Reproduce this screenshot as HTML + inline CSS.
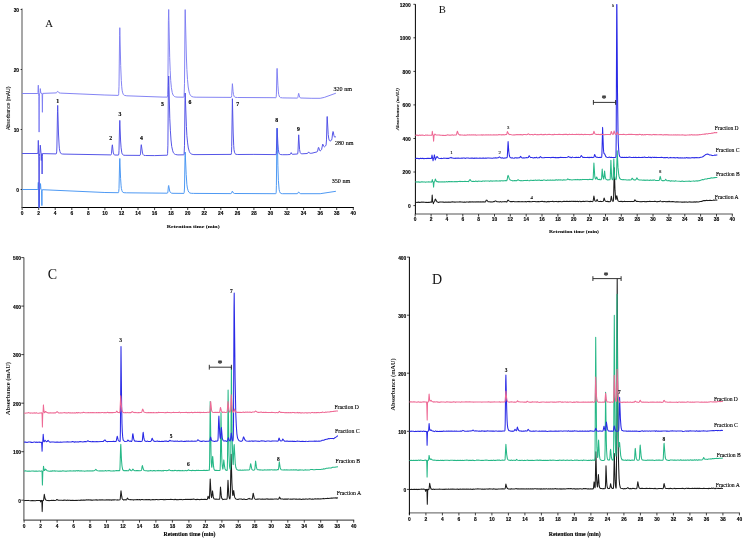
<!DOCTYPE html>
<html><head><meta charset="utf-8"><title>HPLC chromatograms</title>
<style>
html,body{margin:0;padding:0;background:#fff;}
svg{display:block;}
.tk{font-family:"Liberation Sans",Arial,sans-serif;font-size:4.9px;font-weight:bold;fill:#000;stroke:#000;stroke-width:0.12px;}
.xt{font-family:"Liberation Serif","Times New Roman",serif;font-size:4.9px;font-weight:bold;fill:#000;stroke:#000;stroke-width:0.05px;}
.xtL{font-family:"Liberation Serif","Times New Roman",serif;font-size:6.2px;font-weight:bold;fill:#000;stroke:#000;stroke-width:0.12px;}
.ytA{font-family:"Liberation Sans",Arial,sans-serif;font-size:4.8px;fill:#111;stroke:#111;stroke-width:0.1px;}
.ytB{font-family:"Liberation Serif","Times New Roman",serif;font-size:4.6px;font-style:italic;fill:#111;stroke:#111;stroke-width:0.12px;}
.ytC,.ytD{font-family:"Liberation Serif","Times New Roman",serif;font-size:6.2px;font-weight:bold;fill:#111;}
.pl{font-family:"Liberation Serif","Times New Roman",serif;font-size:10.7px;fill:#111;}
.plL{font-family:"Liberation Serif","Times New Roman",serif;font-size:14px;fill:#111;}
.pk{font-family:"Liberation Serif","Times New Roman",serif;font-size:5.8px;font-weight:bold;fill:#000;stroke:#000;stroke-width:0.15px;}
.pkB{font-family:"Liberation Serif","Times New Roman",serif;font-size:4.8px;fill:#000;stroke:#000;stroke-width:0.1px;}
.pkC,.pkD{font-family:"Liberation Serif","Times New Roman",serif;font-size:5.4px;font-weight:bold;fill:#000;stroke:#000;stroke-width:0.1px;}
.lg{font-family:"Liberation Serif","Times New Roman",serif;font-size:6px;fill:#000;stroke:#000;stroke-width:0.12px;}
.star{font-family:"Liberation Serif","Times New Roman",serif;font-size:10px;fill:#222;stroke:#222;stroke-width:0.2px;}
</style></head>
<body>
<svg width="749" height="540" viewBox="0 0 749 540">
<rect width="749" height="540" fill="#fff"/>
<line x1="21.5" y1="207.5" x2="353.8" y2="207.5" stroke="#000" stroke-width="1.0"/>
<line x1="22.1" y1="207.5" x2="22.1" y2="210.0" stroke="#111" stroke-width="0.8"/>
<text x="22.1" y="214.8" class="tk" text-anchor="middle">0</text>
<line x1="38.7" y1="207.5" x2="38.7" y2="210.0" stroke="#111" stroke-width="0.8"/>
<text x="38.7" y="214.8" class="tk" text-anchor="middle">2</text>
<line x1="55.2" y1="207.5" x2="55.2" y2="210.0" stroke="#111" stroke-width="0.8"/>
<text x="55.2" y="214.8" class="tk" text-anchor="middle">4</text>
<line x1="71.8" y1="207.5" x2="71.8" y2="210.0" stroke="#111" stroke-width="0.8"/>
<text x="71.8" y="214.8" class="tk" text-anchor="middle">6</text>
<line x1="88.3" y1="207.5" x2="88.3" y2="210.0" stroke="#111" stroke-width="0.8"/>
<text x="88.3" y="214.8" class="tk" text-anchor="middle">8</text>
<line x1="104.9" y1="207.5" x2="104.9" y2="210.0" stroke="#111" stroke-width="0.8"/>
<text x="104.9" y="214.8" class="tk" text-anchor="middle">10</text>
<line x1="121.5" y1="207.5" x2="121.5" y2="210.0" stroke="#111" stroke-width="0.8"/>
<text x="121.5" y="214.8" class="tk" text-anchor="middle">12</text>
<line x1="138.0" y1="207.5" x2="138.0" y2="210.0" stroke="#111" stroke-width="0.8"/>
<text x="138.0" y="214.8" class="tk" text-anchor="middle">14</text>
<line x1="154.6" y1="207.5" x2="154.6" y2="210.0" stroke="#111" stroke-width="0.8"/>
<text x="154.6" y="214.8" class="tk" text-anchor="middle">16</text>
<line x1="171.1" y1="207.5" x2="171.1" y2="210.0" stroke="#111" stroke-width="0.8"/>
<text x="171.1" y="214.8" class="tk" text-anchor="middle">18</text>
<line x1="187.7" y1="207.5" x2="187.7" y2="210.0" stroke="#111" stroke-width="0.8"/>
<text x="187.7" y="214.8" class="tk" text-anchor="middle">20</text>
<line x1="204.3" y1="207.5" x2="204.3" y2="210.0" stroke="#111" stroke-width="0.8"/>
<text x="204.3" y="214.8" class="tk" text-anchor="middle">22</text>
<line x1="220.8" y1="207.5" x2="220.8" y2="210.0" stroke="#111" stroke-width="0.8"/>
<text x="220.8" y="214.8" class="tk" text-anchor="middle">24</text>
<line x1="237.4" y1="207.5" x2="237.4" y2="210.0" stroke="#111" stroke-width="0.8"/>
<text x="237.4" y="214.8" class="tk" text-anchor="middle">26</text>
<line x1="253.9" y1="207.5" x2="253.9" y2="210.0" stroke="#111" stroke-width="0.8"/>
<text x="253.9" y="214.8" class="tk" text-anchor="middle">28</text>
<line x1="270.5" y1="207.5" x2="270.5" y2="210.0" stroke="#111" stroke-width="0.8"/>
<text x="270.5" y="214.8" class="tk" text-anchor="middle">30</text>
<line x1="287.1" y1="207.5" x2="287.1" y2="210.0" stroke="#111" stroke-width="0.8"/>
<text x="287.1" y="214.8" class="tk" text-anchor="middle">32</text>
<line x1="303.6" y1="207.5" x2="303.6" y2="210.0" stroke="#111" stroke-width="0.8"/>
<text x="303.6" y="214.8" class="tk" text-anchor="middle">34</text>
<line x1="320.2" y1="207.5" x2="320.2" y2="210.0" stroke="#111" stroke-width="0.8"/>
<text x="320.2" y="214.8" class="tk" text-anchor="middle">36</text>
<line x1="336.7" y1="207.5" x2="336.7" y2="210.0" stroke="#111" stroke-width="0.8"/>
<text x="336.7" y="214.8" class="tk" text-anchor="middle">38</text>
<line x1="353.3" y1="207.5" x2="353.3" y2="210.0" stroke="#111" stroke-width="0.8"/>
<text x="353.3" y="214.8" class="tk" text-anchor="middle">40</text>
<line x1="22.0" y1="8.6" x2="22.0" y2="207.5" stroke="#8a8a8a" stroke-width="1.5"/>
<line x1="20.6" y1="189.5" x2="22.0" y2="189.5" stroke="#111" stroke-width="0.8"/>
<text x="19.1" y="191.9" class="tk" text-anchor="end">0</text>
<line x1="20.6" y1="129.5" x2="22.0" y2="129.5" stroke="#111" stroke-width="0.8"/>
<text x="19.1" y="131.9" class="tk" text-anchor="end">10</text>
<line x1="20.6" y1="69.5" x2="22.0" y2="69.5" stroke="#111" stroke-width="0.8"/>
<text x="19.1" y="71.9" class="tk" text-anchor="end">20</text>
<line x1="20.6" y1="9.5" x2="22.0" y2="9.5" stroke="#111" stroke-width="0.8"/>
<text x="19.1" y="11.9" class="tk" text-anchor="end">30</text>
<text x="166.7" y="228.2" class="xt" textLength="53" lengthAdjust="spacingAndGlyphs">Retention time (min)</text>
<text transform="translate(10,129.9) rotate(-90)" class="ytA" textLength="43.3" lengthAdjust="spacingAndGlyphs">Absorbance (mAU)</text>
<text x="49" y="27.4" class="pl" text-anchor="middle">A</text>
<polyline fill="none" stroke="#7d7df2" stroke-width="0.95" stroke-linejoin="round" points="22.1,93.5 37.8,93.5 38.0,92.4 38.3,85.2 38.5,92.4 38.8,96.5 39.1,132.1 39.4,95.0 39.5,93.6 39.9,93.4 40.0,93.1 40.3,88.6 40.8,93.0 41.1,93.3 42.0,93.4 42.1,93.7 42.4,112.3 42.6,95.2 42.8,93.4 56.2,92.9 56.7,92.6 57.4,91.4 57.7,91.2 59.0,92.8 60.3,93.1 104.9,95.0 118.3,95.4 118.6,94.9 118.7,93.4 119.0,86.3 119.6,35.7 119.8,27.7 120.7,65.5 121.3,80.4 121.7,86.2 122.1,90.2 122.7,92.9 123.4,94.5 123.9,95.1 124.6,95.4 126.8,95.8 162.9,97.1 167.3,97.1 167.5,96.4 167.7,94.7 167.9,86.9 168.4,20.5 168.7,9.5 169.7,57.7 170.2,70.7 170.7,80.4 171.4,87.7 172.2,92.4 172.7,94.0 173.2,95.2 173.9,96.0 174.7,96.6 175.6,96.9 177.0,97.1 183.6,97.2 183.9,97.0 184.1,96.4 184.5,83.7 185.0,19.9 185.2,9.6 186.4,57.0 186.9,69.6 187.5,79.6 188.2,87.0 189.1,91.9 189.6,93.6 190.2,94.9 190.9,95.8 191.7,96.5 193.4,97.0 196.1,97.2 231.2,97.4 231.5,97.0 231.7,95.5 232.4,83.7 233.1,91.8 233.5,94.6 234.2,96.5 234.6,97.0 235.1,97.3 237.5,97.5 275.9,97.7 276.1,97.5 276.2,96.9 276.4,94.1 276.9,71.9 277.1,68.4 277.9,85.2 278.4,91.9 278.7,94.4 279.2,96.0 279.7,97.0 280.4,97.6 282.7,97.9 297.4,98.1 297.7,97.9 297.9,97.4 298.5,93.8 298.7,93.3 299.6,97.0 300.1,97.7 300.8,98.0 311.9,98.3 320.2,98.3 324.3,97.4 335.9,93.2"/>
<polyline fill="none" stroke="#4593f2" stroke-width="0.95" stroke-linejoin="round" points="22.1,189.5 37.8,189.5 38.0,188.5 38.3,182.4 38.5,188.5 38.8,191.0 39.0,207.5 39.2,207.5 39.2,207.1 39.4,190.3 39.5,189.6 40.0,189.5 40.2,189.2 40.5,183.6 40.9,188.6 41.1,189.4 41.5,189.7 41.6,190.3 41.9,205.6 42.1,191.2 42.3,189.7 104.9,192.5 118.4,192.7 118.6,192.4 118.7,191.8 119.0,188.6 119.6,163.0 119.8,158.5 120.6,178.7 121.1,185.8 121.4,188.5 121.9,190.5 122.4,191.8 123.1,192.4 124.1,192.7 126.3,192.8 167.3,193.2 167.6,193.0 167.9,192.1 168.4,186.5 168.7,185.5 169.7,191.1 170.3,192.3 171.0,192.9 171.7,193.2 173.0,193.3 183.9,193.4 184.1,193.1 184.2,192.4 184.5,188.0 185.0,157.5 185.2,152.0 186.2,174.6 186.9,184.7 187.4,188.1 188.1,190.6 188.8,192.1 189.9,193.0 191.2,193.3 193.6,193.4 230.8,193.6 231.2,193.5 231.5,193.2 232.2,191.4 232.4,191.2 233.5,193.1 234.0,193.4 234.7,193.5 275.8,193.7 276.0,193.4 276.2,192.3 276.4,185.5 276.9,136.0 277.1,128.3 277.9,165.8 278.4,180.5 279.1,189.3 279.6,191.6 280.3,193.0 281.1,193.5 282.5,193.7 297.2,193.7 297.8,193.4 298.4,192.1 298.7,191.9 299.7,193.3 300.7,193.7 320.2,193.7 335.9,191.3"/>
<polyline fill="none" stroke="#4d4de6" stroke-width="0.95" stroke-linejoin="round" points="22.1,153.5 37.8,153.5 38.0,151.7 38.3,140.4 38.8,159.0 39.0,207.5 39.2,207.5 39.4,156.4 39.5,153.8 39.8,153.4 39.9,152.5 40.3,145.2 41.0,153.5 41.3,160.5 41.6,154.2 41.7,153.6 41.9,154.1 42.1,174.0 42.3,156.3 42.5,153.6 56.0,153.9 56.4,153.7 56.7,151.9 56.9,147.0 57.5,111.7 57.7,105.4 58.5,134.0 59.1,145.0 59.4,148.8 59.9,151.4 60.5,153.0 61.3,153.8 62.3,154.0 64.0,154.1 110.9,154.9 111.3,154.5 111.5,153.4 112.1,146.1 112.4,144.8 113.2,152.1 113.8,154.3 114.2,154.8 114.8,155.0 118.4,155.1 118.8,154.1 119.0,150.3 119.6,125.0 119.8,120.4 120.6,141.0 121.1,147.8 121.8,152.8 122.3,154.1 122.9,154.8 123.7,155.2 125.1,155.3 140.0,155.4 140.3,154.9 140.5,153.9 141.1,145.9 141.3,144.7 142.5,153.1 143.1,154.6 143.8,155.3 145.5,155.5 154.6,155.6 167.3,155.2 167.5,154.7 167.6,153.4 167.9,145.2 168.4,85.3 168.7,76.0 169.8,118.8 170.4,130.8 171.0,140.0 171.7,146.4 172.7,150.8 173.2,152.2 173.8,153.3 174.6,154.0 175.5,154.5 177.9,154.9 183.6,154.8 183.9,154.7 184.1,154.2 184.5,145.3 185.0,100.2 185.2,93.0 186.4,126.3 186.9,135.7 187.6,142.9 188.3,148.0 189.3,151.4 189.8,152.5 190.4,153.3 191.2,153.9 192.1,154.3 193.9,154.6 197.0,154.6 231.2,154.4 231.5,152.6 231.7,146.6 232.4,98.7 233.2,133.0 233.7,145.4 234.0,149.6 234.5,152.2 235.0,153.6 235.9,154.3 237.8,154.5 253.9,154.4 275.9,154.6 276.2,153.7 276.4,150.8 277.1,128.2 277.9,143.9 278.3,149.2 278.9,152.9 279.3,153.8 279.9,154.3 280.8,154.6 282.4,154.7 287.1,154.7 290.0,154.5 290.5,154.2 291.2,152.6 291.9,154.0 292.4,154.3 297.6,154.0 297.8,153.1 298.0,151.0 298.7,134.8 299.6,149.6 300.1,152.3 300.4,153.0 300.8,153.5 301.3,153.7 302.1,153.8 307.3,153.5 307.8,153.2 308.6,151.9 309.5,153.1 310.2,153.3 311.9,153.2 317.0,151.9 317.3,151.7 317.6,151.2 318.3,147.8 318.5,147.3 318.8,147.7 319.5,150.2 319.8,150.7 320.2,150.9 321.1,150.2 321.6,149.5 322.7,144.1 322.9,144.3 323.7,146.3 324.3,146.8 324.8,146.6 325.6,145.9 326.1,144.9 326.5,139.9 327.0,119.9 327.2,116.5 328.2,134.4 328.7,138.1 329.2,140.2 329.7,140.8 330.2,141.0 331.1,140.6 331.6,140.0 332.0,138.4 332.7,132.6 333.0,131.5 333.3,131.9 333.9,135.4 334.4,136.7 334.6,137.1 335.0,137.2 335.9,136.6"/>
<text x="57.8" y="102.5" class="pk" text-anchor="middle">1</text>
<text x="110.6" y="139.5" class="pk" text-anchor="middle">2</text>
<text x="120.0" y="116" class="pk" text-anchor="middle">3</text>
<text x="141.5" y="139.5" class="pk" text-anchor="middle">4</text>
<text x="162.4" y="106" class="pk" text-anchor="middle">5</text>
<text x="190" y="103.5" class="pk" text-anchor="middle">6</text>
<text x="237.8" y="106" class="pk" text-anchor="middle">7</text>
<text x="276.7" y="121.5" class="pk" text-anchor="middle">8</text>
<text x="298.5" y="130.5" class="pk" text-anchor="middle">9</text>
<text x="333.5" y="90.5" class="lg" textLength="18.5" lengthAdjust="spacingAndGlyphs">320 nm</text>
<text x="335" y="144.5" class="lg" textLength="18.5" lengthAdjust="spacingAndGlyphs">280 nm</text>
<text x="331.7" y="183" class="lg" textLength="18.5" lengthAdjust="spacingAndGlyphs">350 nm</text>
<line x1="414.9" y1="214.0" x2="732.8" y2="214.0" stroke="#8c8c8c" stroke-width="1.5"/>
<line x1="415.2" y1="214.0" x2="415.2" y2="216.5" stroke="#111" stroke-width="0.8"/>
<text x="415.2" y="221.1" class="tk" text-anchor="middle">0</text>
<line x1="431.1" y1="214.0" x2="431.1" y2="216.5" stroke="#111" stroke-width="0.8"/>
<text x="431.1" y="221.1" class="tk" text-anchor="middle">2</text>
<line x1="446.9" y1="214.0" x2="446.9" y2="216.5" stroke="#111" stroke-width="0.8"/>
<text x="446.9" y="221.1" class="tk" text-anchor="middle">4</text>
<line x1="462.8" y1="214.0" x2="462.8" y2="216.5" stroke="#111" stroke-width="0.8"/>
<text x="462.8" y="221.1" class="tk" text-anchor="middle">6</text>
<line x1="478.6" y1="214.0" x2="478.6" y2="216.5" stroke="#111" stroke-width="0.8"/>
<text x="478.6" y="221.1" class="tk" text-anchor="middle">8</text>
<line x1="494.5" y1="214.0" x2="494.5" y2="216.5" stroke="#111" stroke-width="0.8"/>
<text x="494.5" y="221.1" class="tk" text-anchor="middle">10</text>
<line x1="510.3" y1="214.0" x2="510.3" y2="216.5" stroke="#111" stroke-width="0.8"/>
<text x="510.3" y="221.1" class="tk" text-anchor="middle">12</text>
<line x1="526.2" y1="214.0" x2="526.2" y2="216.5" stroke="#111" stroke-width="0.8"/>
<text x="526.2" y="221.1" class="tk" text-anchor="middle">14</text>
<line x1="542.0" y1="214.0" x2="542.0" y2="216.5" stroke="#111" stroke-width="0.8"/>
<text x="542.0" y="221.1" class="tk" text-anchor="middle">16</text>
<line x1="557.9" y1="214.0" x2="557.9" y2="216.5" stroke="#111" stroke-width="0.8"/>
<text x="557.9" y="221.1" class="tk" text-anchor="middle">18</text>
<line x1="573.8" y1="214.0" x2="573.8" y2="216.5" stroke="#111" stroke-width="0.8"/>
<text x="573.8" y="221.1" class="tk" text-anchor="middle">20</text>
<line x1="589.6" y1="214.0" x2="589.6" y2="216.5" stroke="#111" stroke-width="0.8"/>
<text x="589.6" y="221.1" class="tk" text-anchor="middle">22</text>
<line x1="605.5" y1="214.0" x2="605.5" y2="216.5" stroke="#111" stroke-width="0.8"/>
<text x="605.5" y="221.1" class="tk" text-anchor="middle">24</text>
<line x1="621.3" y1="214.0" x2="621.3" y2="216.5" stroke="#111" stroke-width="0.8"/>
<text x="621.3" y="221.1" class="tk" text-anchor="middle">26</text>
<line x1="637.2" y1="214.0" x2="637.2" y2="216.5" stroke="#111" stroke-width="0.8"/>
<text x="637.2" y="221.1" class="tk" text-anchor="middle">28</text>
<line x1="653.0" y1="214.0" x2="653.0" y2="216.5" stroke="#111" stroke-width="0.8"/>
<text x="653.0" y="221.1" class="tk" text-anchor="middle">30</text>
<line x1="668.9" y1="214.0" x2="668.9" y2="216.5" stroke="#111" stroke-width="0.8"/>
<text x="668.9" y="221.1" class="tk" text-anchor="middle">32</text>
<line x1="684.8" y1="214.0" x2="684.8" y2="216.5" stroke="#111" stroke-width="0.8"/>
<text x="684.8" y="221.1" class="tk" text-anchor="middle">34</text>
<line x1="700.6" y1="214.0" x2="700.6" y2="216.5" stroke="#111" stroke-width="0.8"/>
<text x="700.6" y="221.1" class="tk" text-anchor="middle">36</text>
<line x1="716.5" y1="214.0" x2="716.5" y2="216.5" stroke="#111" stroke-width="0.8"/>
<text x="716.5" y="221.1" class="tk" text-anchor="middle">38</text>
<line x1="732.3" y1="214.0" x2="732.3" y2="216.5" stroke="#111" stroke-width="0.8"/>
<text x="732.3" y="221.1" class="tk" text-anchor="middle">40</text>
<line x1="415.4" y1="4.2" x2="415.4" y2="214.0" stroke="#000" stroke-width="1.0"/>
<line x1="413.4" y1="205.6" x2="415.4" y2="205.6" stroke="#111" stroke-width="0.8"/>
<text x="410.7" y="208.0" class="tk" text-anchor="end">0</text>
<line x1="413.4" y1="172.0" x2="415.4" y2="172.0" stroke="#111" stroke-width="0.8"/>
<text x="410.7" y="174.4" class="tk" text-anchor="end">200</text>
<line x1="413.4" y1="138.5" x2="415.4" y2="138.5" stroke="#111" stroke-width="0.8"/>
<text x="410.7" y="140.9" class="tk" text-anchor="end">400</text>
<line x1="413.4" y1="104.9" x2="415.4" y2="104.9" stroke="#111" stroke-width="0.8"/>
<text x="410.7" y="107.3" class="tk" text-anchor="end">600</text>
<line x1="413.4" y1="71.4" x2="415.4" y2="71.4" stroke="#111" stroke-width="0.8"/>
<text x="410.7" y="73.8" class="tk" text-anchor="end">800</text>
<line x1="413.4" y1="37.8" x2="415.4" y2="37.8" stroke="#111" stroke-width="0.8"/>
<text x="410.7" y="40.2" class="tk" text-anchor="end">1000</text>
<line x1="413.4" y1="4.3" x2="415.4" y2="4.3" stroke="#111" stroke-width="0.8"/>
<text x="410.7" y="6.7" class="tk" text-anchor="end">1200</text>
<text x="549.0" y="233" class="xt" textLength="50" lengthAdjust="spacingAndGlyphs">Retention time (min)</text>
<text transform="translate(398.8,130.3) rotate(-90)" class="ytB" textLength="42" lengthAdjust="spacingAndGlyphs">Absorbance (mAU)</text>
<text x="442.2" y="12.7" class="pl" text-anchor="middle">B</text>
<polyline fill="none" stroke="#1c1c1c" stroke-width="1.05" stroke-linejoin="round" points="415.2,202.3 417.3,202.4 418.2,202.0 419.0,202.5 419.4,202.3 420.0,202.4 421.4,202.1 422.1,202.2 422.8,202.1 424.5,202.3 425.2,202.2 425.7,202.4 426.3,202.3 426.8,202.5 428.4,202.3 429.1,202.5 429.7,202.2 430.7,202.1 431.3,202.3 431.7,202.0 431.8,201.3 432.2,195.1 432.6,201.1 433.4,203.7 433.7,202.4 434.6,201.5 435.1,199.5 435.4,199.1 436.9,201.8 438.7,202.4 439.6,202.0 440.3,202.1 440.8,201.9 441.6,202.1 442.4,201.9 443.0,202.2 443.7,202.0 444.4,202.4 445.0,202.1 446.3,202.2 446.9,202.0 447.8,202.2 448.4,202.0 449.3,202.3 449.9,202.1 450.5,202.2 451.2,201.9 451.9,202.1 452.6,201.8 453.6,202.1 454.2,201.9 454.8,202.3 456.0,201.9 457.7,202.1 458.2,202.0 459.1,202.0 459.9,201.7 461.2,202.1 462.3,202.0 463.0,202.2 464.3,201.9 465.6,202.3 466.3,201.9 466.9,202.1 468.1,201.9 468.9,202.2 469.5,201.8 470.2,202.1 470.9,201.7 471.7,201.9 472.9,201.7 473.6,202.1 474.5,202.0 475.0,201.8 475.6,202.1 477.1,201.8 477.6,202.0 478.3,201.8 479.3,201.9 480.1,201.7 481.0,202.1 482.3,201.8 482.9,201.9 483.4,201.7 485.2,202.0 485.6,201.7 486.2,200.3 486.6,200.1 487.0,200.3 488.1,201.7 489.3,201.7 490.4,202.0 491.0,201.7 491.5,201.9 492.5,201.9 493.5,201.6 494.3,201.7 495.0,201.1 495.6,200.9 497.1,201.8 498.2,201.8 499.4,202.0 500.1,201.6 501.6,202.0 502.5,201.7 504.4,201.8 505.0,201.6 505.5,201.8 506.1,201.7 506.7,202.0 507.0,201.8 507.8,200.3 508.1,200.1 508.9,200.9 510.3,201.6 512.7,201.6 513.7,201.4 514.6,201.8 515.6,201.7 516.8,201.8 518.9,201.5 519.8,201.8 520.4,201.7 521.5,201.7 522.0,201.5 522.5,201.8 523.8,201.7 524.4,201.8 525.9,201.6 526.5,201.9 527.2,201.6 528.3,201.4 529.0,201.7 529.7,201.4 530.5,201.8 531.9,201.7 532.6,201.5 533.2,201.6 533.6,201.5 534.2,201.6 535.0,201.4 536.0,201.7 538.6,201.5 539.3,201.7 540.6,201.4 541.3,201.5 542.0,201.3 543.1,201.4 543.9,201.7 544.7,201.4 546.5,201.9 547.3,201.6 548.0,201.8 548.9,201.4 549.6,201.7 550.2,201.5 552.0,201.6 552.8,201.3 553.7,201.7 555.0,201.5 556.2,201.6 556.7,201.4 557.7,201.7 558.3,201.4 559.0,201.7 559.6,201.4 560.2,201.5 560.6,201.4 561.3,201.7 561.9,201.8 564.0,201.2 565.2,201.5 566.7,201.2 568.9,201.6 569.8,201.3 571.1,201.5 571.9,201.1 572.5,201.4 573.0,201.3 573.5,201.5 574.0,201.3 575.1,201.6 575.8,201.3 576.6,201.4 577.4,201.2 578.1,201.6 578.5,201.6 579.3,201.2 579.8,201.2 581.0,201.7 581.7,201.4 583.5,201.3 584.6,201.6 585.9,201.3 587.4,201.3 588.9,201.5 589.4,201.4 589.9,201.7 590.6,201.3 591.2,201.5 591.9,201.4 592.4,201.7 592.9,201.3 593.2,200.7 593.9,196.1 594.8,200.5 595.0,200.9 595.8,201.3 596.4,201.1 597.1,199.4 597.7,200.9 598.0,201.2 599.6,201.4 600.5,201.3 601.2,201.6 603.2,201.2 603.5,200.8 603.9,198.5 604.2,198.1 604.9,200.5 605.6,201.2 606.2,201.4 607.3,201.3 608.1,201.8 608.7,201.5 609.9,201.7 610.4,201.4 610.6,201.0 611.3,196.2 612.1,200.2 612.5,201.1 613.0,201.3 613.2,201.2 613.4,200.7 613.6,197.4 614.3,167.7 615.0,190.4 615.6,197.9 615.8,199.2 615.9,199.4 616.1,199.3 616.6,196.2 616.8,195.8 617.8,200.2 618.2,200.9 618.9,201.4 620.0,201.6 621.2,201.3 622.3,201.7 622.9,201.4 623.7,201.6 624.3,201.3 625.2,201.6 626.3,201.4 627.2,201.6 627.7,201.4 630.3,201.4 630.9,201.6 631.5,201.4 632.1,201.6 633.5,201.4 634.0,201.5 634.9,199.8 636.3,201.5 636.9,201.3 637.9,201.5 638.4,201.4 640.4,201.7 640.9,201.6 642.1,201.7 642.6,201.5 644.2,201.4 644.9,201.7 646.2,201.5 646.7,201.7 647.5,201.4 648.9,201.6 649.8,201.3 650.5,201.6 651.7,201.5 652.3,201.6 652.8,201.5 653.4,201.6 655.0,201.3 656.5,201.7 657.2,201.6 657.8,201.7 658.4,201.5 659.2,201.6 660.3,200.9 661.0,201.4 662.2,201.7 662.7,201.5 663.3,201.7 663.9,201.4 665.0,201.5 665.8,201.8 667.2,201.6 668.3,201.8 669.1,201.3 669.8,201.8 672.9,201.6 674.1,201.7 675.4,202.1 676.7,201.7 677.3,201.9 677.8,201.7 678.8,202.0 680.1,201.9 680.6,202.0 681.1,201.9 681.9,202.2 682.5,202.0 683.5,202.2 684.0,201.8 684.7,202.2 685.7,201.9 686.2,202.1 686.8,201.9 687.6,202.2 688.7,201.9 689.2,202.0 689.8,201.8 690.5,202.0 691.0,202.2 691.7,201.9 692.3,201.9 693.1,202.2 694.1,201.8 694.8,202.1 695.5,202.1 696.1,201.8 698.4,202.0 700.2,201.5 701.5,201.5 702.0,201.1 702.6,201.1 703.8,200.6 705.6,200.6 706.4,200.2 707.1,200.6 707.6,200.4 708.6,200.6 710.1,200.2 711.4,200.4 713.0,200.3 713.6,200.1 714.8,200.2 715.6,199.9 716.6,200.1 717.3,200.1"/>
<polyline fill="none" stroke="#27b887" stroke-width="1.05" stroke-linejoin="round" points="415.2,182.0 416.1,181.8 416.7,182.1 417.2,181.9 417.7,182.1 418.2,181.8 418.8,182.1 419.6,182.1 420.1,182.2 420.8,181.9 421.6,181.8 423.9,182.1 424.8,181.9 425.4,182.2 426.3,181.9 428.1,182.1 428.7,181.8 429.6,182.1 431.0,181.9 431.6,182.1 431.9,181.7 432.3,179.5 432.7,181.3 433.1,181.8 433.2,182.3 433.6,187.1 434.0,182.3 434.1,182.0 434.7,181.7 435.3,179.0 436.2,180.9 436.8,181.7 437.1,181.8 437.6,181.6 438.2,182.1 438.8,181.8 440.4,181.9 441.0,181.7 441.9,181.9 442.9,181.7 443.8,181.9 444.5,181.7 445.7,181.9 446.3,181.6 447.2,182.0 448.6,181.6 449.9,181.6 450.6,181.8 451.8,181.5 452.8,181.8 453.9,181.8 455.1,181.5 455.7,181.8 456.8,181.6 457.4,181.8 458.1,181.5 459.1,181.6 460.1,181.2 460.9,181.6 461.6,181.4 462.2,181.6 462.8,181.4 464.1,181.6 465.1,181.3 465.8,181.5 468.0,181.4 468.6,181.6 468.8,181.3 469.5,180.0 470.1,179.6 471.0,180.9 471.8,181.4 473.2,181.2 473.9,181.5 474.8,181.5 475.8,181.0 476.4,181.2 477.1,181.6 477.6,181.3 478.2,181.3 478.8,181.1 479.5,181.3 481.2,181.2 481.7,181.4 482.8,180.9 483.4,181.1 484.1,181.0 484.6,181.2 485.2,180.9 486.5,181.1 488.7,181.0 489.5,181.4 490.1,181.0 490.9,180.8 492.1,181.2 492.8,180.9 493.3,181.0 493.8,180.9 494.5,181.1 496.5,180.8 497.5,181.0 498.9,180.9 499.7,180.7 500.3,181.1 501.0,180.7 501.5,180.8 502.3,180.7 503.0,181.0 503.6,180.7 504.7,180.7 505.3,180.6 506.5,180.7 506.8,180.5 507.2,179.5 507.8,175.9 508.1,175.4 508.4,175.9 509.1,178.2 509.9,179.7 511.0,180.3 512.0,180.5 512.7,180.9 513.2,180.7 514.0,180.8 514.6,180.5 515.4,180.8 516.0,180.6 516.9,180.7 518.1,179.7 519.0,180.2 520.4,180.7 521.1,180.5 521.7,180.7 523.0,180.7 523.8,180.4 525.1,180.5 525.9,180.4 526.6,180.6 527.3,180.2 527.9,180.5 529.7,180.7 530.3,180.3 531.3,180.2 532.1,180.4 533.3,180.2 533.9,180.5 535.6,180.1 536.9,180.4 538.0,180.1 538.8,180.3 539.5,180.1 540.5,180.4 541.5,180.2 542.6,180.4 543.3,180.1 544.4,180.0 546.3,180.4 547.5,180.0 549.2,180.2 550.2,179.9 551.9,180.2 552.6,180.0 554.2,180.2 554.8,180.1 555.2,180.3 555.9,179.8 556.5,179.8 557.2,180.2 558.4,179.7 558.9,179.9 560.3,179.8 560.9,180.1 561.9,179.9 562.5,180.2 563.6,179.8 565.5,180.0 566.8,179.8 567.8,178.8 569.0,179.7 569.6,179.6 572.0,179.9 573.2,179.7 574.4,179.8 575.2,179.6 576.5,179.8 577.3,179.4 578.0,179.7 579.2,179.6 579.7,179.9 580.5,179.6 581.9,179.7 582.5,179.4 583.6,179.6 584.4,179.4 585.3,179.5 586.5,179.4 587.3,179.4 587.9,179.8 589.9,179.3 590.4,179.5 591.0,179.4 591.5,179.6 592.0,179.4 592.5,179.7 593.0,179.2 593.2,177.7 593.9,163.0 594.7,175.4 595.0,177.7 595.4,178.9 595.7,179.0 596.0,178.9 596.7,177.0 597.6,179.1 597.9,179.4 598.6,179.6 599.3,179.2 600.0,179.7 600.9,179.7 601.2,179.5 601.6,177.9 602.2,169.1 602.9,176.5 603.5,178.9 603.7,179.0 603.9,178.3 604.6,171.1 605.2,176.6 605.7,178.6 605.9,179.1 606.4,179.5 607.9,180.1 608.9,179.7 609.9,179.7 610.2,179.1 610.9,160.3 611.6,176.3 612.0,179.0 612.4,179.6 612.7,179.8 613.0,179.5 613.2,177.7 613.8,158.9 614.3,172.2 614.6,177.0 615.0,178.9 616.0,179.6 616.3,178.9 616.5,176.1 617.2,150.8 618.0,167.4 618.7,174.2 619.0,176.2 619.8,178.5 621.2,179.6 622.4,179.7 623.0,179.5 624.3,179.8 625.5,179.7 626.9,180.0 628.2,180.0 628.9,179.8 629.9,180.1 631.2,179.7 631.9,178.4 632.2,178.2 633.5,179.8 634.1,179.8 634.6,180.1 635.1,179.9 635.6,180.0 635.9,179.7 636.7,178.2 636.9,177.9 638.0,179.5 639.3,179.9 641.4,179.9 642.8,180.2 643.3,180.0 643.7,180.2 644.3,180.1 645.0,180.4 646.0,180.0 646.7,180.2 647.5,180.1 648.1,180.2 648.7,180.2 649.4,180.4 650.1,180.1 651.0,180.1 651.5,180.4 652.1,180.1 652.8,180.3 653.5,180.1 654.0,180.1 654.5,179.9 655.4,180.4 658.8,180.4 659.2,180.3 659.4,179.9 660.2,176.4 660.4,176.8 661.1,179.8 661.4,180.1 662.2,180.7 663.0,180.5 664.0,180.7 664.6,180.5 665.1,180.2 665.7,179.3 666.4,180.1 667.2,180.8 668.0,180.8 668.7,180.6 669.7,180.7 670.4,181.2 671.6,180.7 672.5,181.0 673.6,180.9 674.3,181.2 675.6,180.8 676.4,181.1 679.8,181.2 680.9,181.4 682.1,181.0 683.9,181.5 685.7,181.2 686.4,181.3 688.3,181.3 689.2,181.0 690.3,181.4 691.0,181.2 692.9,181.1 693.4,180.9 694.2,181.3 695.4,180.9 697.1,180.8 697.8,181.1 698.5,180.7 699.2,180.8 699.8,180.5 700.4,180.4 700.9,180.1 701.7,179.9 702.4,179.5 703.7,179.7 704.7,179.1 707.0,179.0 707.5,178.6 708.2,178.4 709.0,178.6 709.7,178.5 710.2,178.1 710.8,178.2 711.3,177.8 713.0,178.1 714.4,177.6 714.9,177.7 715.5,177.5 716.1,177.6 717.3,177.4"/>
<polyline fill="none" stroke="#2a2ae6" stroke-width="1.05" stroke-linejoin="round" points="415.2,158.5 415.5,158.5 416.2,158.2 417.2,158.4 417.8,158.3 418.4,158.6 419.3,158.6 419.9,158.6 420.6,158.2 421.5,158.6 422.8,158.2 423.9,158.7 424.9,158.4 425.4,158.5 426.0,158.4 426.6,158.6 427.3,158.3 428.0,158.5 428.6,158.3 430.5,158.5 431.1,158.3 431.4,158.4 431.6,157.8 432.0,155.0 433.1,160.8 433.4,158.5 433.9,157.8 434.4,154.9 435.3,159.9 435.7,158.6 436.1,158.1 436.7,156.8 437.0,156.5 437.3,156.7 437.9,157.6 438.9,158.2 440.7,158.4 441.4,158.2 442.0,158.6 443.4,158.3 443.9,158.1 444.4,158.2 446.3,158.3 446.7,158.5 447.3,158.3 447.8,158.5 448.3,158.3 448.8,158.4 449.4,158.0 450.2,157.9 451.0,157.3 451.8,158.0 452.6,158.0 453.3,158.2 454.5,158.2 455.1,158.4 455.9,158.1 456.6,158.3 458.2,158.1 458.9,158.3 460.2,158.2 460.8,158.3 462.1,158.1 462.5,158.2 463.2,158.0 464.3,158.0 465.5,158.4 466.2,158.0 468.4,158.0 469.0,158.2 469.9,158.2 471.6,158.1 472.1,158.2 472.7,158.0 474.0,158.5 474.8,158.0 476.0,158.3 476.8,158.0 477.5,158.2 478.8,158.2 479.9,158.0 481.2,158.2 483.3,157.9 484.5,158.2 485.9,158.1 486.5,158.2 487.1,158.0 487.8,158.1 488.4,157.9 492.7,158.2 493.5,157.9 494.4,158.1 495.7,157.7 496.6,158.1 498.2,157.8 499.4,156.9 501.1,158.1 502.3,157.7 503.6,158.2 504.1,158.2 504.7,157.9 505.7,158.0 506.2,157.7 506.6,157.8 507.0,157.7 507.3,156.8 508.1,141.5 508.8,151.6 509.3,155.2 509.6,156.5 510.2,157.5 510.4,157.7 510.9,157.7 511.4,157.9 512.2,157.8 512.9,158.1 514.1,158.2 515.0,157.7 515.7,157.7 516.3,158.0 517.0,157.7 517.7,157.9 519.0,157.7 519.6,157.8 520.6,156.4 521.3,157.4 522.4,157.9 523.0,158.1 523.9,157.7 524.7,158.0 526.7,157.6 527.4,157.8 528.3,157.5 529.0,156.0 529.3,155.8 530.1,157.0 530.7,157.6 531.8,157.5 533.6,158.0 534.5,157.6 535.8,157.7 536.4,157.3 537.3,157.9 538.5,157.8 539.1,157.6 539.5,157.7 540.4,156.6 541.7,157.7 542.6,157.8 544.3,157.7 544.9,157.4 548.0,157.6 548.7,157.4 549.8,157.4 550.8,157.8 551.4,157.4 552.0,157.6 553.2,157.3 553.7,157.6 554.4,157.5 555.0,157.7 555.7,157.4 556.4,157.8 557.2,157.5 557.9,157.7 558.4,157.5 559.0,157.7 559.5,157.4 560.3,157.3 562.2,157.6 562.8,157.4 563.4,157.6 564.2,157.4 565.2,157.6 565.8,157.4 567.3,157.3 568.8,156.6 569.6,157.3 570.5,157.3 571.2,157.7 572.3,157.1 573.0,157.3 574.9,157.4 575.5,157.6 576.2,157.3 577.7,157.5 578.4,157.3 579.0,157.5 580.3,157.2 581.3,155.5 582.6,157.2 583.2,157.5 584.1,157.3 584.6,157.4 585.4,157.4 586.8,157.6 588.0,157.2 589.1,157.7 589.8,157.2 590.8,157.5 591.6,157.2 592.7,157.6 593.9,157.2 594.7,154.5 595.5,156.4 596.2,157.2 597.5,157.2 598.0,157.4 598.8,157.6 600.6,157.3 601.3,157.4 601.5,157.3 601.7,156.9 601.9,154.4 602.6,127.4 603.4,148.2 603.7,151.9 604.0,153.5 604.7,154.0 605.9,156.7 606.9,157.2 608.0,157.5 609.7,157.1 610.3,157.5 611.3,157.3 612.1,157.5 613.7,157.4 614.7,157.6 615.7,157.2 615.9,156.5 616.0,153.9 616.2,137.5 616.7,4.4 616.9,4.4 616.9,4.8 617.5,92.1 618.0,131.3 618.3,142.7 618.7,150.0 619.1,154.3 619.8,156.6 620.9,157.4 622.1,157.3 624.2,157.5 624.7,157.3 625.7,157.4 626.3,157.3 627.9,157.5 629.3,157.1 631.3,157.6 632.4,157.5 633.0,157.6 633.6,157.3 634.8,157.4 635.6,157.2 636.6,157.6 637.2,157.4 638.1,157.5 638.8,157.2 639.6,157.5 641.3,157.5 642.4,157.3 643.0,157.4 644.5,157.1 645.7,157.5 647.0,157.6 647.6,157.4 648.1,157.4 648.7,157.0 649.5,157.4 650.5,157.3 651.2,157.7 652.1,157.3 652.9,157.2 653.6,157.4 654.3,157.2 655.5,157.4 656.0,157.3 656.8,157.6 657.4,157.4 658.3,157.4 660.4,157.6 661.4,157.3 662.1,157.5 662.8,157.4 663.3,157.7 663.9,157.8 664.4,157.6 665.0,157.8 665.4,157.6 666.4,157.6 667.1,157.4 667.8,157.8 668.3,157.9 670.7,157.4 671.4,157.7 672.6,157.8 674.1,157.6 675.1,158.0 675.9,157.7 676.5,157.8 677.4,157.6 678.1,157.9 678.8,157.7 679.5,158.0 680.5,157.7 681.1,157.9 682.1,157.8 682.9,158.0 683.5,157.9 684.1,158.0 684.7,157.8 685.3,158.1 686.9,157.6 687.6,157.9 688.6,157.7 691.2,157.9 691.8,157.6 692.6,157.8 693.3,157.6 694.1,158.0 695.0,157.5 695.7,157.8 696.9,157.6 697.6,157.8 699.2,157.8 699.8,157.5 702.2,157.0 703.3,156.5 703.9,155.8 704.4,155.7 705.9,154.4 707.4,154.1 708.3,154.3 709.8,155.1 711.0,155.0 712.2,155.6 714.2,155.3 714.8,155.1 715.5,155.2 716.1,155.0 716.7,155.1 717.3,154.8"/>
<polyline fill="none" stroke="#ee6a95" stroke-width="1.05" stroke-linejoin="round" points="415.2,135.3 415.8,135.3 416.6,135.0 417.6,135.3 418.2,135.7 419.0,135.1 420.1,135.1 420.8,135.4 421.4,135.1 422.4,135.1 424.4,135.4 425.3,135.2 425.8,134.9 426.6,135.3 427.3,135.1 428.1,135.3 429.6,135.2 430.3,135.3 431.7,135.2 432.0,134.6 432.3,131.2 432.7,134.3 433.2,135.5 433.6,141.2 434.0,135.7 434.9,134.0 435.6,134.7 436.5,135.1 439.1,134.9 439.6,135.1 440.2,135.1 440.6,135.3 441.6,135.3 442.1,135.2 442.6,135.4 443.1,135.2 444.6,135.4 445.2,135.2 445.8,135.4 447.7,134.8 448.2,135.1 448.7,135.0 449.3,135.2 449.9,135.1 450.9,135.3 451.5,135.0 452.3,134.8 452.9,135.1 453.5,135.2 454.2,135.0 455.9,135.1 456.2,135.0 456.5,134.5 457.2,131.7 457.4,131.3 458.5,134.2 459.8,135.2 460.4,134.8 461.0,135.1 462.1,134.9 464.1,135.2 464.7,134.9 466.2,135.2 467.4,134.8 468.0,135.0 469.6,134.8 470.5,135.1 472.0,134.8 472.8,135.0 473.8,134.8 474.6,135.0 475.5,134.8 476.2,135.2 477.3,134.9 480.7,134.9 481.4,134.8 482.2,135.2 483.0,134.8 484.1,135.1 485.3,135.0 485.8,134.8 486.4,134.9 486.9,134.7 487.7,134.9 488.3,134.8 489.4,135.0 490.2,134.8 492.1,135.0 493.8,134.8 494.4,135.0 495.0,134.8 495.9,134.9 496.7,134.7 497.9,134.9 498.8,134.6 500.4,134.8 500.9,134.7 501.4,135.0 502.0,134.6 502.7,134.9 503.3,134.6 504.0,134.9 504.6,134.7 505.1,134.7 505.6,134.5 506.1,134.6 506.5,134.5 506.8,133.9 507.3,132.0 507.5,131.6 508.3,133.4 509.3,134.6 510.7,134.5 511.5,134.8 512.9,134.9 514.1,134.8 515.3,134.9 516.1,134.5 517.1,134.8 517.9,134.5 518.6,134.7 519.1,134.6 519.6,134.7 520.2,134.5 520.6,134.5 521.1,134.9 521.7,134.6 522.6,134.9 523.5,134.5 524.6,134.6 525.1,134.5 526.4,134.8 527.3,134.6 527.9,134.0 528.5,133.8 529.5,134.6 530.0,134.8 531.4,134.5 532.3,134.5 532.9,134.9 534.9,134.3 536.6,134.7 537.7,134.6 539.2,134.7 539.8,134.5 540.5,134.6 541.1,134.2 542.1,134.7 543.3,134.6 544.5,134.6 545.2,134.2 545.8,134.6 546.9,134.7 547.7,134.4 548.4,134.5 548.9,134.3 551.9,134.7 552.6,134.5 553.7,134.7 554.3,134.3 555.4,134.5 557.2,134.4 557.9,134.6 559.0,134.2 560.9,134.6 561.7,134.4 562.4,134.5 563.0,134.7 564.0,134.3 564.8,134.5 565.5,134.2 566.1,134.5 566.7,134.3 567.4,134.7 568.0,134.5 568.7,134.6 569.3,134.1 570.0,134.5 571.4,134.5 572.2,134.3 573.4,134.6 574.9,134.4 575.6,134.6 576.4,134.3 578.1,134.6 578.9,134.1 579.7,134.7 581.2,134.2 582.1,134.6 582.9,134.4 583.5,134.7 585.0,134.2 585.7,134.6 586.2,134.5 587.8,134.6 589.0,134.4 589.9,134.7 590.4,134.5 590.9,134.5 591.4,134.3 592.1,134.5 593.0,134.1 593.3,133.6 593.9,131.3 594.6,133.2 595.0,133.9 595.4,134.2 596.0,134.2 596.5,134.5 597.6,134.5 598.2,134.3 598.8,134.4 599.3,134.4 600.2,134.7 600.9,134.3 602.7,134.6 603.6,134.4 604.5,134.8 605.9,134.4 606.6,134.6 607.2,134.4 609.7,134.5 610.2,134.7 610.6,134.2 611.1,132.0 611.3,131.5 612.2,133.8 612.7,134.3 613.2,134.4 614.1,131.0 614.9,133.6 615.6,134.3 616.0,134.4 616.4,134.2 617.2,132.0 617.8,133.6 618.3,134.3 618.5,134.5 619.1,134.4 619.7,134.6 620.4,134.4 621.2,134.6 622.1,134.4 622.9,134.6 623.6,134.3 625.9,134.7 627.2,134.4 627.8,134.5 629.0,134.3 629.4,134.4 630.0,134.3 630.9,134.5 631.6,134.3 632.9,134.5 635.0,134.5 635.6,134.8 636.3,134.5 636.9,134.8 637.5,134.5 638.2,134.7 638.5,134.7 639.3,134.3 639.9,134.5 640.7,134.4 641.7,135.0 642.5,134.5 643.3,134.9 644.8,134.5 645.5,134.9 646.2,134.5 647.4,134.6 648.0,134.4 649.1,134.8 650.0,134.4 650.6,134.7 651.2,134.7 651.8,134.9 653.2,134.4 653.8,134.6 654.9,134.6 655.4,134.8 656.1,134.5 656.8,134.8 657.4,134.7 658.8,134.7 659.3,134.8 660.0,134.6 660.6,134.8 661.2,134.6 662.8,134.9 663.3,134.8 663.8,134.9 665.0,134.5 665.9,134.9 666.9,134.5 667.9,134.9 668.4,134.7 670.4,134.9 671.1,134.8 671.6,135.0 672.7,134.9 673.2,135.0 673.8,134.7 674.6,134.9 675.7,134.7 676.4,135.1 677.2,134.8 678.3,134.9 678.9,134.8 679.7,135.1 681.1,134.9 681.6,135.0 682.1,134.8 683.6,135.1 684.1,135.0 684.6,135.2 685.2,135.0 685.8,135.2 687.2,134.9 689.0,135.1 689.7,134.8 690.7,134.9 691.5,134.6 692.3,135.0 693.0,134.7 693.7,134.9 694.8,134.7 695.6,134.9 697.3,134.7 698.1,135.0 699.4,134.6 700.0,134.7 702.9,134.3 703.9,134.3 704.5,134.1 705.6,134.1 706.0,133.8 706.7,133.7 707.3,133.9 708.9,133.5 711.1,133.4 711.7,133.1 712.4,133.3 712.8,133.0 713.8,132.9 714.4,132.5 715.3,132.8 716.4,132.5 717.3,132.8"/>
<text x="451.4" y="154.3" class="pkB" text-anchor="middle">1</text>
<text x="499.8" y="154.3" class="pkB" text-anchor="middle">2</text>
<text x="508.2" y="128.7" class="pkB" text-anchor="middle">3</text>
<text x="531.7" y="199.2" class="pkB" text-anchor="middle">4</text>
<text x="613" y="6.7" class="pkB" text-anchor="middle">5</text>
<text x="660.2" y="173.1" class="pkB" text-anchor="middle">8</text>
<text x="714.8" y="129.8" class="lg" textLength="23.8" lengthAdjust="spacingAndGlyphs">Fraction D</text>
<text x="715.7" y="152.2" class="lg" textLength="23.8" lengthAdjust="spacingAndGlyphs">Fraction C</text>
<text x="716" y="175.6" class="lg" textLength="23.8" lengthAdjust="spacingAndGlyphs">Fraction B</text>
<text x="714.8" y="199.4" class="lg" textLength="23.8" lengthAdjust="spacingAndGlyphs">Fraction A</text>
<path d="M593.4,100.0V104.80000000000001M593.4,102.4H615.6M615.6,100.0V104.80000000000001" stroke="#2a2a2a" stroke-width="0.95" fill="none"/>
<text x="604" y="101.5" class="star" text-anchor="middle">*</text>
<line x1="23.4" y1="520.1" x2="354.2" y2="520.1" stroke="#555" stroke-width="1.1"/>
<line x1="24.1" y1="520.1" x2="24.1" y2="522.6" stroke="#111" stroke-width="0.8"/>
<text x="24.1" y="528.1" class="tk" text-anchor="middle">0</text>
<line x1="40.6" y1="520.1" x2="40.6" y2="522.6" stroke="#111" stroke-width="0.8"/>
<text x="40.6" y="528.1" class="tk" text-anchor="middle">2</text>
<line x1="57.1" y1="520.1" x2="57.1" y2="522.6" stroke="#111" stroke-width="0.8"/>
<text x="57.1" y="528.1" class="tk" text-anchor="middle">4</text>
<line x1="73.5" y1="520.1" x2="73.5" y2="522.6" stroke="#111" stroke-width="0.8"/>
<text x="73.5" y="528.1" class="tk" text-anchor="middle">6</text>
<line x1="90.0" y1="520.1" x2="90.0" y2="522.6" stroke="#111" stroke-width="0.8"/>
<text x="90.0" y="528.1" class="tk" text-anchor="middle">8</text>
<line x1="106.5" y1="520.1" x2="106.5" y2="522.6" stroke="#111" stroke-width="0.8"/>
<text x="106.5" y="528.1" class="tk" text-anchor="middle">10</text>
<line x1="123.0" y1="520.1" x2="123.0" y2="522.6" stroke="#111" stroke-width="0.8"/>
<text x="123.0" y="528.1" class="tk" text-anchor="middle">12</text>
<line x1="139.5" y1="520.1" x2="139.5" y2="522.6" stroke="#111" stroke-width="0.8"/>
<text x="139.5" y="528.1" class="tk" text-anchor="middle">14</text>
<line x1="155.9" y1="520.1" x2="155.9" y2="522.6" stroke="#111" stroke-width="0.8"/>
<text x="155.9" y="528.1" class="tk" text-anchor="middle">16</text>
<line x1="172.4" y1="520.1" x2="172.4" y2="522.6" stroke="#111" stroke-width="0.8"/>
<text x="172.4" y="528.1" class="tk" text-anchor="middle">18</text>
<line x1="188.9" y1="520.1" x2="188.9" y2="522.6" stroke="#111" stroke-width="0.8"/>
<text x="188.9" y="528.1" class="tk" text-anchor="middle">20</text>
<line x1="205.4" y1="520.1" x2="205.4" y2="522.6" stroke="#111" stroke-width="0.8"/>
<text x="205.4" y="528.1" class="tk" text-anchor="middle">22</text>
<line x1="221.9" y1="520.1" x2="221.9" y2="522.6" stroke="#111" stroke-width="0.8"/>
<text x="221.9" y="528.1" class="tk" text-anchor="middle">24</text>
<line x1="238.3" y1="520.1" x2="238.3" y2="522.6" stroke="#111" stroke-width="0.8"/>
<text x="238.3" y="528.1" class="tk" text-anchor="middle">26</text>
<line x1="254.8" y1="520.1" x2="254.8" y2="522.6" stroke="#111" stroke-width="0.8"/>
<text x="254.8" y="528.1" class="tk" text-anchor="middle">28</text>
<line x1="271.3" y1="520.1" x2="271.3" y2="522.6" stroke="#111" stroke-width="0.8"/>
<text x="271.3" y="528.1" class="tk" text-anchor="middle">30</text>
<line x1="287.8" y1="520.1" x2="287.8" y2="522.6" stroke="#111" stroke-width="0.8"/>
<text x="287.8" y="528.1" class="tk" text-anchor="middle">32</text>
<line x1="304.3" y1="520.1" x2="304.3" y2="522.6" stroke="#111" stroke-width="0.8"/>
<text x="304.3" y="528.1" class="tk" text-anchor="middle">34</text>
<line x1="320.7" y1="520.1" x2="320.7" y2="522.6" stroke="#111" stroke-width="0.8"/>
<text x="320.7" y="528.1" class="tk" text-anchor="middle">36</text>
<line x1="337.2" y1="520.1" x2="337.2" y2="522.6" stroke="#111" stroke-width="0.8"/>
<text x="337.2" y="528.1" class="tk" text-anchor="middle">38</text>
<line x1="353.7" y1="520.1" x2="353.7" y2="522.6" stroke="#111" stroke-width="0.8"/>
<text x="353.7" y="528.1" class="tk" text-anchor="middle">40</text>
<line x1="23.9" y1="257.4" x2="23.9" y2="520.1" stroke="#555" stroke-width="1.1"/>
<line x1="21.3" y1="500.2" x2="23.9" y2="500.2" stroke="#111" stroke-width="0.8"/>
<text x="21.1" y="502.6" class="tk" text-anchor="end">0</text>
<line x1="21.3" y1="451.7" x2="23.9" y2="451.7" stroke="#111" stroke-width="0.8"/>
<text x="21.1" y="454.1" class="tk" text-anchor="end">100</text>
<line x1="21.3" y1="403.2" x2="23.9" y2="403.2" stroke="#111" stroke-width="0.8"/>
<text x="21.1" y="405.6" class="tk" text-anchor="end">200</text>
<line x1="21.3" y1="354.6" x2="23.9" y2="354.6" stroke="#111" stroke-width="0.8"/>
<text x="21.1" y="357.0" class="tk" text-anchor="end">300</text>
<line x1="21.3" y1="306.1" x2="23.9" y2="306.1" stroke="#111" stroke-width="0.8"/>
<text x="21.1" y="308.5" class="tk" text-anchor="end">400</text>
<line x1="21.3" y1="257.6" x2="23.9" y2="257.6" stroke="#111" stroke-width="0.8"/>
<text x="21.1" y="260.0" class="tk" text-anchor="end">500</text>
<text x="163.5" y="535.8" class="xtL" textLength="52" lengthAdjust="spacingAndGlyphs">Retention time (min)</text>
<text transform="translate(10.3,415.0) rotate(-90)" class="ytC" textLength="53" lengthAdjust="spacingAndGlyphs">Absorbance (mAU)</text>
<text x="52.3" y="279.2" class="plL" text-anchor="middle">C</text>
<polyline fill="none" stroke="#1c1c1c" stroke-width="1.05" stroke-linejoin="round" points="24.1,500.7 25.1,500.5 26.9,500.5 27.6,500.6 28.3,500.4 28.9,500.6 30.6,500.7 32.1,500.4 35.5,500.8 36.4,500.5 38.7,500.4 40.2,500.6 40.6,501.9 41.0,500.5 41.6,500.4 41.8,500.9 41.9,502.0 42.2,511.6 42.6,501.0 42.8,500.4 43.4,500.4 43.6,500.0 44.3,494.3 45.0,498.3 45.5,499.7 47.1,500.6 48.2,500.4 49.1,500.7 49.9,500.5 51.1,500.5 51.7,500.3 52.3,500.5 53.1,500.3 54.8,500.5 56.1,500.2 56.9,499.5 58.3,500.2 61.9,500.2 63.2,500.4 63.9,500.1 66.3,500.2 66.8,500.4 67.8,500.1 69.0,500.4 69.6,500.1 70.2,500.4 70.9,500.2 71.5,500.4 72.2,500.2 75.2,500.4 76.0,500.2 77.0,500.6 78.1,500.2 79.3,500.2 80.1,500.4 80.8,500.1 82.0,500.1 82.5,500.2 83.1,500.1 84.3,500.1 85.0,500.3 86.4,499.8 87.0,500.0 88.2,499.8 89.4,500.0 90.1,499.8 91.0,500.2 91.8,499.9 92.7,500.3 93.3,500.0 94.8,500.1 96.4,499.7 97.2,500.2 97.7,499.9 99.1,499.9 99.9,499.7 100.8,500.1 102.1,499.8 103.7,499.9 104.3,500.1 104.8,500.0 105.5,500.1 106.5,499.8 107.1,499.9 107.6,499.8 108.1,499.9 108.6,499.8 109.2,500.1 109.9,499.7 110.6,500.0 111.1,500.0 111.6,500.2 112.2,499.8 112.9,499.9 113.6,499.8 114.2,500.0 114.8,499.7 115.4,499.8 116.8,499.9 117.3,499.8 117.9,500.1 118.5,500.0 119.9,499.7 120.2,499.2 121.0,490.8 121.7,496.2 122.1,498.4 122.6,499.3 123.8,500.1 124.6,499.7 125.3,499.6 126.0,500.0 126.3,499.9 126.7,499.5 127.3,498.3 127.5,498.1 128.3,499.2 129.2,499.6 129.9,499.7 130.8,499.6 131.4,499.8 131.9,499.7 132.9,499.8 133.4,500.1 134.1,499.7 135.3,499.8 137.5,499.6 138.1,499.8 139.7,499.6 140.6,499.9 141.3,499.6 142.4,499.5 143.1,499.8 144.9,499.8 146.2,499.5 146.9,499.8 148.2,499.5 148.9,499.8 149.7,499.6 150.6,499.9 152.7,499.6 155.2,499.8 155.9,499.5 156.7,499.4 158.0,499.8 160.8,499.4 161.9,499.6 162.6,499.5 163.4,499.7 164.0,499.4 165.3,499.7 165.9,499.4 166.5,499.6 167.2,499.4 168.8,499.6 169.4,499.5 170.0,499.6 170.9,499.3 171.7,499.5 172.8,499.5 174.2,499.7 175.1,499.3 176.2,499.7 176.9,499.5 178.2,499.7 179.1,499.4 179.8,499.6 180.3,499.4 180.9,499.6 181.5,499.4 182.4,499.7 183.8,499.4 185.3,499.4 185.8,499.2 187.2,499.4 187.9,499.2 188.9,499.5 190.2,499.3 190.7,499.6 191.3,499.3 192.0,499.5 193.3,499.1 195.4,499.4 196.1,499.7 197.0,499.3 198.9,499.4 199.7,499.8 200.3,499.5 201.6,499.3 202.6,499.5 205.0,499.2 206.2,499.6 207.4,499.2 208.1,496.2 209.0,498.5 209.2,498.7 209.4,498.3 209.6,495.1 210.2,479.1 211.0,493.4 211.3,496.4 211.6,497.6 211.8,496.7 212.5,490.9 213.3,496.9 213.8,498.7 215.2,499.2 216.1,499.0 216.8,499.3 219.6,499.3 219.9,497.2 220.5,487.1 221.3,495.9 221.7,498.2 222.9,499.6 224.5,499.2 225.1,499.3 226.8,499.3 227.1,498.6 227.3,496.5 228.0,480.3 228.8,495.3 229.3,498.0 229.6,498.7 229.9,498.9 230.2,497.5 230.4,492.7 231.1,454.2 231.9,482.6 232.5,493.5 232.8,495.3 232.9,495.5 233.0,495.4 233.5,491.2 233.7,490.6 234.6,496.9 235.1,498.0 235.8,498.9 238.0,499.4 239.1,499.0 240.6,499.1 241.2,498.9 242.6,499.4 244.0,499.0 245.3,499.4 246.8,499.4 248.5,498.8 249.1,498.3 249.9,499.0 250.9,498.9 252.0,499.3 252.2,499.1 252.4,498.4 253.2,493.2 254.3,498.2 254.8,498.9 255.7,499.4 256.5,499.3 257.2,499.0 258.0,499.2 258.8,498.9 260.0,499.0 260.7,499.2 262.4,498.9 264.3,499.2 265.0,499.0 265.6,499.3 267.1,498.8 267.8,499.2 268.8,499.0 269.5,499.2 270.5,499.1 271.1,499.2 272.0,498.9 272.8,499.2 274.7,499.0 275.2,499.1 276.6,498.9 277.6,499.3 278.7,498.9 279.6,497.1 280.3,498.5 280.9,499.0 282.7,498.9 283.3,499.3 284.6,499.1 287.9,499.1 288.5,498.9 289.1,499.1 290.2,499.2 290.7,499.0 291.5,499.3 292.2,499.1 292.9,499.3 293.7,498.9 294.9,499.0 295.5,499.3 296.2,499.1 297.6,499.2 299.9,498.9 301.6,499.4 302.9,499.1 305.0,499.2 305.7,498.9 306.2,499.1 306.8,499.0 307.6,499.3 309.8,498.8 311.3,499.2 312.4,498.9 313.3,499.2 315.1,498.8 316.9,498.9 317.5,498.7 318.1,499.0 318.7,498.8 319.5,498.9 320.3,498.8 320.8,498.9 322.1,498.7 322.7,498.8 323.4,498.4 324.4,498.7 325.8,498.5 326.9,498.6 327.8,498.2 328.5,498.4 331.7,498.0 332.3,498.2 332.8,498.0 333.4,498.1 333.9,497.9 334.5,498.0 335.3,497.8 336.3,498.2 336.9,497.8 337.5,497.9 338.0,497.8"/>
<polyline fill="none" stroke="#27b887" stroke-width="1.05" stroke-linejoin="round" points="24.1,471.2 25.3,470.8 27.2,471.2 28.1,471.0 28.9,471.2 29.6,471.1 30.2,471.3 31.9,471.0 32.6,471.1 33.2,470.9 34.0,471.2 35.2,471.1 35.8,471.2 36.4,471.0 37.3,471.3 39.3,470.9 40.3,471.4 41.3,470.9 41.8,471.0 42.0,471.5 42.1,472.9 42.4,485.0 42.8,472.4 42.9,471.5 43.2,470.7 43.5,466.2 44.0,469.6 44.4,470.5 44.7,470.5 45.2,469.3 45.5,469.1 47.1,470.7 49.3,471.2 51.0,470.9 51.9,471.2 52.5,470.8 53.1,471.0 54.5,470.7 55.3,471.2 55.9,470.9 57.3,471.0 57.9,471.2 59.2,471.0 59.9,471.2 60.7,471.0 61.3,471.2 62.1,470.9 62.7,470.8 65.4,471.3 66.0,471.0 66.8,471.3 67.5,470.9 68.9,471.1 70.2,470.8 71.6,471.0 72.7,471.0 73.5,470.8 74.4,471.0 75.0,470.8 75.7,471.1 76.7,470.6 77.5,470.9 78.2,470.6 79.1,470.9 80.0,470.7 80.8,471.0 81.4,470.7 82.0,471.0 84.0,471.0 84.5,471.2 85.7,470.9 87.9,470.8 88.8,471.0 90.1,470.8 90.7,471.0 92.4,470.8 92.9,471.0 94.7,470.5 95.8,469.3 96.9,470.4 98.0,470.8 99.1,470.9 100.0,470.7 101.2,471.0 101.9,470.8 104.6,470.9 105.4,470.5 106.4,470.9 107.6,470.7 108.1,470.8 109.0,470.6 109.9,470.7 110.6,471.0 112.4,471.0 113.7,470.7 114.5,470.9 115.2,470.7 115.8,470.8 116.4,470.6 117.1,470.6 117.6,470.8 118.9,470.6 119.6,470.7 119.8,470.0 120.0,467.4 120.6,447.1 120.8,444.3 121.5,460.3 122.0,466.0 122.7,469.6 122.9,470.0 124.0,470.7 124.3,470.7 124.9,470.5 125.5,470.8 126.2,470.5 127.5,470.8 128.5,470.8 128.8,470.5 129.6,469.0 130.6,470.4 131.7,470.8 132.0,470.6 132.5,469.4 132.9,469.1 133.1,469.3 133.8,470.3 134.8,470.7 135.7,470.8 136.3,470.5 136.9,470.8 137.5,470.6 140.0,470.8 141.2,470.6 141.6,469.9 142.1,466.3 142.4,465.6 143.3,469.1 143.9,470.3 144.3,470.5 145.7,470.7 146.9,470.7 147.5,470.9 148.2,470.7 148.9,470.9 150.6,470.4 152.4,470.9 153.3,470.6 154.4,470.6 155.2,470.9 155.8,470.7 157.0,470.8 157.7,470.5 158.3,470.7 158.9,470.4 159.9,470.7 160.9,470.6 161.8,470.9 162.6,470.6 163.2,471.0 163.9,470.4 166.0,470.6 166.5,470.8 167.7,470.4 168.3,470.4 169.1,469.7 170.3,470.6 170.9,470.5 171.8,470.8 172.6,470.5 174.1,470.7 174.9,470.3 176.5,470.7 177.2,470.5 178.0,470.8 178.7,470.4 179.3,470.8 180.0,470.4 181.2,470.7 182.5,470.4 183.2,470.7 184.5,470.7 185.4,470.4 186.3,470.9 187.1,470.4 187.7,470.6 188.5,469.8 189.4,470.4 191.0,470.4 191.7,470.8 192.7,470.3 193.4,470.6 194.6,470.5 195.1,470.7 195.7,470.4 196.4,470.3 196.9,470.5 198.3,470.3 199.5,470.5 201.3,470.4 202.6,470.6 204.1,470.3 205.5,470.6 206.3,470.3 207.3,470.4 208.0,470.2 209.1,470.3 209.3,470.1 209.4,469.1 209.6,462.5 210.2,401.5 211.0,452.4 211.3,462.4 211.7,467.1 211.8,467.3 211.9,467.1 212.0,466.3 212.5,457.6 212.7,456.4 213.6,466.7 213.9,468.6 214.2,469.6 214.9,470.4 215.6,470.3 216.2,470.4 216.8,470.2 217.3,470.4 218.5,470.5 219.8,470.4 220.1,469.8 220.4,461.8 221.0,412.4 221.6,452.3 221.9,460.8 222.3,466.3 222.7,468.7 222.8,469.1 223.0,468.8 223.8,459.9 224.6,466.7 225.0,468.7 225.6,469.9 227.0,470.4 227.2,470.0 227.3,468.5 227.5,459.9 228.1,390.1 229.0,455.5 229.5,466.1 229.9,468.5 230.4,469.4 230.5,468.7 230.7,466.0 230.8,455.2 231.4,367.0 232.1,436.0 232.8,460.5 233.1,464.2 233.2,464.6 233.3,463.8 233.9,447.1 234.2,444.6 235.3,464.2 235.8,467.3 236.4,468.8 236.8,469.5 238.4,470.3 240.2,469.9 241.3,470.2 242.2,470.2 242.7,470.0 243.3,470.2 244.2,469.9 245.0,470.3 245.6,470.0 246.5,470.1 247.1,469.9 247.8,470.1 249.1,470.0 249.5,469.6 249.8,468.9 250.5,464.3 250.7,463.7 251.6,468.2 252.0,469.6 253.2,470.2 254.3,470.0 254.7,469.6 254.9,468.6 255.6,461.0 256.4,466.9 256.9,469.0 257.2,469.4 257.7,469.7 258.1,469.8 258.7,469.7 259.3,470.0 260.1,469.7 260.9,470.1 262.1,469.9 262.9,470.2 264.7,469.8 265.8,469.9 266.7,470.1 268.0,469.8 268.8,469.9 269.3,469.7 270.2,470.0 271.0,469.7 272.0,469.7 272.6,469.9 274.6,469.7 276.6,470.0 277.6,469.6 278.2,469.7 278.6,468.6 279.3,461.8 280.1,467.2 280.6,468.9 281.2,469.7 283.2,470.0 284.8,469.7 285.4,469.9 286.8,469.8 287.8,470.1 288.6,469.9 289.3,470.1 289.9,469.9 291.2,469.8 292.1,470.0 293.7,469.8 294.5,470.0 295.2,469.8 295.9,470.0 296.5,469.7 297.0,470.1 297.6,470.2 298.4,469.9 299.1,470.2 299.9,469.8 300.8,470.1 302.8,469.9 303.7,470.2 305.4,469.8 306.1,470.1 307.3,469.9 308.0,470.1 309.8,469.9 310.4,469.6 312.4,469.5 313.2,469.7 314.6,469.7 316.2,469.4 316.9,469.6 318.8,469.4 319.3,469.5 319.8,469.4 320.8,469.4 321.5,469.2 322.9,469.3 323.7,468.8 324.6,469.0 326.4,468.3 327.4,468.2 328.0,468.3 328.5,468.0 329.4,467.9 331.1,468.0 332.7,467.3 335.2,467.3 336.0,466.9 338.0,466.7"/>
<polyline fill="none" stroke="#2a2ae6" stroke-width="1.05" stroke-linejoin="round" points="24.1,442.1 24.7,442.1 25.2,442.3 25.8,442.1 26.9,442.4 28.4,442.0 28.9,442.1 30.2,441.9 31.1,442.5 31.6,442.2 32.3,442.4 34.3,442.0 35.2,442.1 35.9,442.5 36.8,442.1 37.5,442.4 38.1,442.1 38.5,442.3 39.4,442.1 40.1,442.4 40.7,442.2 41.5,442.3 41.7,443.5 42.1,451.3 42.4,443.5 42.8,441.3 43.2,434.3 43.7,440.4 43.9,441.4 44.2,441.8 45.1,440.3 46.2,441.5 46.5,441.7 47.2,441.5 47.8,440.5 48.1,440.4 48.7,441.2 49.5,441.9 50.4,442.3 51.0,441.9 51.8,442.1 52.8,441.9 53.5,442.1 54.1,442.0 54.8,442.2 57.1,441.9 59.1,442.2 60.8,442.0 61.5,442.2 63.5,442.0 66.1,442.1 67.6,441.7 68.8,442.1 69.4,441.9 71.3,442.0 72.4,441.5 73.6,441.7 74.4,442.2 75.3,441.7 77.2,441.9 77.7,441.8 78.7,442.1 80.0,441.6 83.0,442.0 83.6,441.7 84.1,441.8 84.6,441.6 85.4,441.6 86.1,441.8 87.0,441.4 87.5,440.9 87.9,440.7 89.3,441.6 90.3,441.5 91.0,441.8 91.9,441.7 92.6,441.4 95.0,441.8 97.0,441.4 97.7,441.7 101.3,441.4 102.4,441.6 103.4,441.4 104.4,440.2 104.9,440.0 105.2,440.1 106.0,441.3 106.7,441.4 107.3,441.7 108.0,441.4 109.9,441.5 110.4,441.4 111.3,441.6 112.1,441.4 112.8,441.5 113.5,441.3 114.7,441.6 115.3,441.4 115.9,441.4 116.2,441.1 117.2,436.3 117.4,436.7 118.3,440.5 118.7,440.9 119.9,441.5 120.1,441.0 120.2,439.1 120.4,430.9 121.0,346.5 121.6,403.1 122.0,424.1 122.3,431.8 122.7,436.9 123.1,439.7 123.3,440.3 123.7,440.7 124.6,441.4 127.1,441.2 127.8,440.1 128.0,440.0 129.1,441.2 129.7,441.3 130.4,441.1 131.3,441.5 131.7,441.4 132.1,440.2 132.6,434.8 132.9,433.7 133.7,438.8 134.2,440.3 134.6,441.0 135.1,441.2 135.7,441.1 138.3,441.5 138.9,441.3 139.5,441.4 140.0,441.2 140.8,441.6 141.9,441.3 142.2,440.9 142.4,440.1 143.0,433.4 143.2,432.3 143.9,438.2 144.3,439.7 145.0,441.1 146.2,441.4 147.6,441.1 148.3,441.5 150.6,441.4 151.4,440.7 152.0,438.5 152.2,438.2 153.3,440.7 154.9,441.4 157.7,441.0 158.4,441.4 159.3,441.3 160.3,441.5 161.2,441.5 161.8,441.3 162.4,441.5 162.9,441.3 163.6,441.5 164.4,441.1 164.9,441.3 165.5,441.1 166.8,441.1 167.6,441.5 168.3,441.2 168.8,441.5 169.6,440.5 170.0,440.3 170.9,441.0 171.8,441.1 172.5,441.0 173.6,441.3 174.2,441.1 174.8,441.4 175.4,441.1 176.3,441.2 177.6,441.0 178.2,441.3 179.0,441.4 179.8,441.2 180.5,441.3 181.1,441.1 183.7,441.4 184.5,441.2 185.3,441.5 186.2,441.1 187.2,441.3 188.2,441.0 189.1,441.3 189.8,441.2 190.4,441.3 191.7,441.0 193.2,441.3 194.5,441.2 195.0,441.0 195.7,441.2 196.9,441.0 197.8,439.7 199.3,440.9 199.9,441.0 200.7,441.4 201.4,441.2 202.1,441.4 202.8,441.1 203.8,441.0 204.5,441.3 205.1,441.2 205.9,441.4 206.5,441.2 208.6,441.2 209.7,440.8 210.0,440.2 210.6,437.1 211.4,440.1 211.9,440.8 214.6,441.5 215.7,441.1 216.3,441.2 216.8,441.0 217.5,441.0 217.9,440.4 218.1,437.9 218.7,418.6 218.9,416.0 219.7,433.2 220.0,436.7 220.3,438.4 220.5,438.3 220.7,437.2 221.2,428.9 221.4,427.6 222.3,437.8 222.7,439.6 223.2,440.6 224.0,441.1 225.5,440.8 225.9,440.9 226.5,441.4 227.1,441.2 227.6,440.5 228.4,437.7 229.3,440.4 229.8,440.9 230.2,440.9 230.5,439.6 231.3,433.1 232.1,439.4 232.5,440.7 232.9,441.0 233.1,439.9 233.3,437.1 233.5,423.8 234.0,308.8 234.2,293.1 235.1,378.4 235.8,414.2 236.3,425.8 236.9,433.8 237.5,437.8 238.0,439.0 238.7,440.3 239.3,440.8 240.4,441.2 241.6,441.2 242.0,441.0 242.6,440.3 243.3,437.4 243.6,436.9 243.8,437.2 244.5,439.1 245.4,440.4 246.3,441.0 248.8,441.3 249.4,441.0 250.0,441.2 251.4,440.9 252.1,441.1 253.1,441.1 253.8,441.3 254.4,441.0 255.2,441.1 255.9,440.9 257.5,441.3 258.3,441.1 258.9,441.4 261.7,440.8 263.2,441.0 263.8,440.9 264.4,441.2 265.0,441.1 265.6,441.4 266.9,441.1 269.2,441.0 269.8,441.2 271.3,441.2 272.0,440.9 272.5,441.1 273.0,440.9 274.0,441.1 276.4,441.0 277.1,441.2 278.0,441.1 278.2,440.8 278.9,438.5 279.1,438.1 279.3,438.4 280.0,440.5 280.9,441.0 282.0,440.8 282.8,439.0 284.1,440.8 284.7,441.2 285.4,441.3 286.4,441.1 287.1,441.2 287.5,441.1 288.4,441.2 289.1,441.5 289.9,441.1 291.0,441.4 292.2,441.1 292.8,441.5 293.3,441.3 293.9,441.5 294.5,441.3 295.8,441.4 297.4,441.1 298.0,441.3 299.5,441.2 300.2,441.5 302.9,441.2 303.7,441.5 305.1,441.6 305.9,441.2 306.5,441.3 308.1,441.4 308.8,441.2 309.5,441.3 311.3,441.2 311.9,441.3 313.8,441.2 314.3,441.0 314.9,441.4 315.8,441.1 317.9,441.2 319.0,441.0 319.7,441.3 321.5,440.8 322.2,440.3 323.8,440.3 324.6,439.8 326.3,439.3 327.1,439.3 328.8,438.6 329.5,438.7 330.1,438.5 331.5,438.6 332.9,438.4 333.9,438.7 334.9,437.7 336.4,436.9 337.5,435.9 338.0,435.8"/>
<polyline fill="none" stroke="#ee6a95" stroke-width="1.05" stroke-linejoin="round" points="24.1,413.1 25.0,413.2 26.3,413.0 27.2,413.1 28.2,412.6 29.5,413.0 30.1,412.9 30.6,413.2 31.2,412.9 32.1,412.9 32.7,413.2 33.2,413.0 33.8,413.1 34.3,412.8 35.1,413.2 36.3,412.7 37.0,413.0 38.0,413.2 39.1,413.2 39.6,413.0 40.7,413.0 41.3,412.8 41.8,413.0 42.0,413.6 42.1,415.0 42.4,427.0 42.7,414.8 43.1,411.8 43.4,404.9 43.9,410.7 44.3,412.5 44.5,412.7 44.7,412.6 45.3,411.7 45.6,411.5 46.6,412.3 48.3,413.1 48.9,412.8 49.6,413.1 50.4,412.8 52.3,413.0 53.0,412.8 53.7,413.1 54.8,412.7 55.6,412.9 57.1,411.6 59.0,413.1 59.6,412.9 60.2,413.0 60.8,412.7 61.9,413.0 63.3,412.7 64.0,412.8 64.8,412.6 65.8,412.9 66.8,412.8 67.5,413.0 68.8,412.6 69.6,412.9 70.5,412.7 71.4,413.0 72.4,412.7 73.1,412.9 74.3,412.7 75.6,413.1 76.5,412.5 77.4,413.0 78.3,412.5 78.9,412.8 79.5,412.7 80.4,412.9 81.1,412.7 82.6,412.7 83.3,412.3 85.2,412.8 85.8,412.7 87.6,412.7 88.1,412.5 89.8,412.8 90.9,412.5 91.8,412.8 92.7,412.5 93.3,412.7 93.8,412.6 94.8,412.8 95.9,412.8 96.4,412.5 97.1,412.8 98.8,412.4 101.1,412.8 101.9,412.4 102.7,412.4 103.3,412.7 104.9,412.6 106.4,412.8 107.7,412.2 108.3,412.6 113.3,412.6 114.0,412.4 114.9,412.5 115.5,412.4 116.0,412.1 116.8,411.1 117.8,412.4 118.3,412.6 119.0,412.5 119.5,412.7 119.8,412.2 120.0,410.6 120.7,395.7 121.5,406.5 121.9,410.1 122.4,411.6 123.0,412.2 123.9,412.7 124.7,412.8 125.4,412.4 127.1,412.7 127.7,412.4 128.4,412.8 130.3,412.5 131.0,412.7 131.9,411.8 132.3,411.6 133.3,412.3 133.8,412.5 134.4,412.4 135.0,412.8 135.8,412.4 137.1,412.7 138.5,412.6 139.1,412.8 140.2,412.4 141.4,412.4 141.8,412.0 142.5,409.5 142.8,409.1 144.0,412.1 144.4,412.3 145.7,412.4 146.4,412.7 148.8,412.4 149.9,412.8 150.5,412.5 151.1,412.7 151.7,412.5 152.2,412.7 153.6,412.4 154.5,412.7 155.8,412.7 156.4,412.5 157.9,412.7 158.5,412.3 159.2,412.6 160.0,412.4 161.8,412.6 163.4,412.4 164.9,412.7 165.6,412.5 166.1,412.7 167.3,412.3 168.4,412.6 169.2,412.4 171.2,412.7 172.3,412.5 173.0,412.5 173.5,412.3 174.1,412.6 174.8,412.4 176.0,412.4 176.9,412.6 178.5,412.5 179.1,412.1 180.4,412.7 181.0,412.5 181.8,412.5 182.4,412.6 184.1,412.4 185.4,412.5 186.2,412.2 187.0,412.6 187.7,412.6 188.3,412.4 189.0,412.7 189.9,412.4 190.8,412.6 191.4,412.3 192.2,412.6 193.3,412.6 194.2,412.5 194.8,412.2 196.2,412.6 198.0,412.3 198.9,412.4 199.4,412.3 200.2,412.7 200.9,412.3 201.4,412.5 203.0,412.5 203.7,412.2 204.4,412.6 206.7,412.4 207.3,412.2 208.6,412.3 209.3,412.5 209.7,412.2 210.0,411.1 210.7,401.6 211.6,410.3 212.0,411.6 212.7,412.3 213.7,412.4 215.2,412.3 216.0,412.6 216.8,412.2 219.4,412.5 219.8,411.6 220.3,408.2 220.5,407.5 221.4,411.0 222.4,412.4 222.8,412.5 224.1,412.1 225.0,412.4 226.9,412.3 227.3,410.8 228.0,401.5 228.9,410.1 229.3,411.5 229.6,412.0 229.9,412.1 230.3,411.6 230.6,410.0 231.3,394.8 232.2,408.8 232.7,411.3 233.0,412.1 233.4,412.3 233.8,411.9 234.4,409.4 234.5,409.1 235.3,411.1 236.0,412.2 236.3,412.3 236.8,412.1 237.5,412.4 238.3,412.2 239.2,412.4 239.7,412.2 241.8,412.4 242.4,412.2 242.9,412.3 243.4,412.1 244.2,412.4 245.8,412.1 247.0,412.2 247.7,412.0 248.4,412.2 250.1,412.0 250.9,412.4 251.4,412.5 252.5,412.0 254.3,412.1 255.2,411.3 255.7,411.1 256.7,411.8 257.8,412.4 258.3,412.2 259.1,412.4 259.7,412.2 261.3,412.1 262.4,412.4 263.8,412.3 264.5,412.4 265.3,412.2 267.4,412.5 268.0,412.4 268.6,412.6 269.7,412.4 270.9,412.6 271.9,412.2 272.6,412.5 273.7,412.4 275.6,412.7 276.3,412.4 277.0,412.4 277.7,412.7 278.6,412.4 279.2,411.5 279.4,411.4 280.5,412.4 281.3,412.5 281.8,412.3 282.4,412.5 283.1,412.6 283.9,412.4 284.7,412.8 286.1,412.5 287.5,412.8 288.2,412.5 289.7,412.8 290.4,412.5 291.7,412.7 292.5,412.4 293.1,412.6 294.2,412.5 294.8,412.9 295.3,412.7 296.3,412.8 297.8,412.4 298.4,412.9 299.4,412.6 300.1,412.7 300.6,413.0 301.1,412.8 302.2,412.9 302.8,412.6 303.4,412.9 304.3,412.9 304.8,412.7 305.3,412.8 306.1,412.7 306.7,413.0 307.2,412.8 307.8,412.9 308.4,412.7 309.0,412.8 309.8,412.8 310.5,413.1 311.4,412.6 312.2,412.4 313.6,412.8 314.6,412.6 315.9,412.8 316.6,412.6 317.5,412.6 318.3,412.4 319.1,412.7 320.7,412.4 321.6,412.6 322.7,412.1 323.3,412.3 324.6,412.4 325.7,412.1 326.6,412.2 327.3,411.9 329.7,411.9 330.4,411.6 331.1,411.7 331.7,411.5 333.0,411.6 333.6,411.3 334.1,411.4 334.7,411.1 335.4,411.3 336.0,411.0 338.0,410.9"/>
<text x="120.5" y="341.6" class="pkC" text-anchor="middle">3</text>
<text x="231.3" y="293.4" class="pkC" text-anchor="middle">7</text>
<text x="171" y="437.6" class="pkC" text-anchor="middle">5</text>
<text x="188.3" y="465.9" class="pkC" text-anchor="middle">6</text>
<text x="278.4" y="460.5" class="pkC" text-anchor="middle">8</text>
<text x="334.4" y="408.8" class="lg" textLength="24.5" lengthAdjust="spacingAndGlyphs">Fraction D</text>
<text x="335.1" y="433.4" class="lg" textLength="24.5" lengthAdjust="spacingAndGlyphs">Fraction C</text>
<text x="335.6" y="463.4" class="lg" textLength="24.5" lengthAdjust="spacingAndGlyphs">Fraction B</text>
<text x="336.7" y="495.1" class="lg" textLength="24.5" lengthAdjust="spacingAndGlyphs">Fraction A</text>
<path d="M209.3,364.8V369.59999999999997M209.3,367.2H231.4M231.4,364.8V369.59999999999997" stroke="#2a2a2a" stroke-width="0.95" fill="none"/>
<text x="220" y="366.8" class="star" text-anchor="middle">*</text>
<line x1="408.9" y1="512.9" x2="739.9" y2="512.9" stroke="#7a7a7a" stroke-width="1.3"/>
<line x1="409.4" y1="512.9" x2="409.4" y2="515.4" stroke="#111" stroke-width="0.8"/>
<text x="409.4" y="521.1" class="tk" text-anchor="middle">0</text>
<line x1="425.9" y1="512.9" x2="425.9" y2="515.4" stroke="#111" stroke-width="0.8"/>
<text x="425.9" y="521.1" class="tk" text-anchor="middle">2</text>
<line x1="442.4" y1="512.9" x2="442.4" y2="515.4" stroke="#111" stroke-width="0.8"/>
<text x="442.4" y="521.1" class="tk" text-anchor="middle">4</text>
<line x1="458.9" y1="512.9" x2="458.9" y2="515.4" stroke="#111" stroke-width="0.8"/>
<text x="458.9" y="521.1" class="tk" text-anchor="middle">6</text>
<line x1="475.4" y1="512.9" x2="475.4" y2="515.4" stroke="#111" stroke-width="0.8"/>
<text x="475.4" y="521.1" class="tk" text-anchor="middle">8</text>
<line x1="491.9" y1="512.9" x2="491.9" y2="515.4" stroke="#111" stroke-width="0.8"/>
<text x="491.9" y="521.1" class="tk" text-anchor="middle">10</text>
<line x1="508.4" y1="512.9" x2="508.4" y2="515.4" stroke="#111" stroke-width="0.8"/>
<text x="508.4" y="521.1" class="tk" text-anchor="middle">12</text>
<line x1="524.9" y1="512.9" x2="524.9" y2="515.4" stroke="#111" stroke-width="0.8"/>
<text x="524.9" y="521.1" class="tk" text-anchor="middle">14</text>
<line x1="541.4" y1="512.9" x2="541.4" y2="515.4" stroke="#111" stroke-width="0.8"/>
<text x="541.4" y="521.1" class="tk" text-anchor="middle">16</text>
<line x1="557.9" y1="512.9" x2="557.9" y2="515.4" stroke="#111" stroke-width="0.8"/>
<text x="557.9" y="521.1" class="tk" text-anchor="middle">18</text>
<line x1="574.4" y1="512.9" x2="574.4" y2="515.4" stroke="#111" stroke-width="0.8"/>
<text x="574.4" y="521.1" class="tk" text-anchor="middle">20</text>
<line x1="590.9" y1="512.9" x2="590.9" y2="515.4" stroke="#111" stroke-width="0.8"/>
<text x="590.9" y="521.1" class="tk" text-anchor="middle">22</text>
<line x1="607.4" y1="512.9" x2="607.4" y2="515.4" stroke="#111" stroke-width="0.8"/>
<text x="607.4" y="521.1" class="tk" text-anchor="middle">24</text>
<line x1="623.9" y1="512.9" x2="623.9" y2="515.4" stroke="#111" stroke-width="0.8"/>
<text x="623.9" y="521.1" class="tk" text-anchor="middle">26</text>
<line x1="640.4" y1="512.9" x2="640.4" y2="515.4" stroke="#111" stroke-width="0.8"/>
<text x="640.4" y="521.1" class="tk" text-anchor="middle">28</text>
<line x1="656.9" y1="512.9" x2="656.9" y2="515.4" stroke="#111" stroke-width="0.8"/>
<text x="656.9" y="521.1" class="tk" text-anchor="middle">30</text>
<line x1="673.4" y1="512.9" x2="673.4" y2="515.4" stroke="#111" stroke-width="0.8"/>
<text x="673.4" y="521.1" class="tk" text-anchor="middle">32</text>
<line x1="689.9" y1="512.9" x2="689.9" y2="515.4" stroke="#111" stroke-width="0.8"/>
<text x="689.9" y="521.1" class="tk" text-anchor="middle">34</text>
<line x1="706.4" y1="512.9" x2="706.4" y2="515.4" stroke="#111" stroke-width="0.8"/>
<text x="706.4" y="521.1" class="tk" text-anchor="middle">36</text>
<line x1="722.9" y1="512.9" x2="722.9" y2="515.4" stroke="#111" stroke-width="0.8"/>
<text x="722.9" y="521.1" class="tk" text-anchor="middle">38</text>
<line x1="739.4" y1="512.9" x2="739.4" y2="515.4" stroke="#111" stroke-width="0.8"/>
<text x="739.4" y="521.1" class="tk" text-anchor="middle">40</text>
<line x1="409.4" y1="256.9" x2="409.4" y2="514.6999999999999" stroke="#000" stroke-width="1.0"/>
<line x1="406.9" y1="489.4" x2="409.4" y2="489.4" stroke="#111" stroke-width="0.8"/>
<text x="406.3" y="491.8" class="tk" text-anchor="end">0</text>
<line x1="406.9" y1="431.3" x2="409.4" y2="431.3" stroke="#111" stroke-width="0.8"/>
<text x="406.3" y="433.7" class="tk" text-anchor="end">100</text>
<line x1="406.9" y1="373.2" x2="409.4" y2="373.2" stroke="#111" stroke-width="0.8"/>
<text x="406.3" y="375.6" class="tk" text-anchor="end">200</text>
<line x1="406.9" y1="315.2" x2="409.4" y2="315.2" stroke="#111" stroke-width="0.8"/>
<text x="406.3" y="317.6" class="tk" text-anchor="end">300</text>
<line x1="406.9" y1="257.1" x2="409.4" y2="257.1" stroke="#111" stroke-width="0.8"/>
<text x="406.3" y="259.5" class="tk" text-anchor="end">400</text>
<text x="548.8" y="536.3" class="xtL" textLength="52" lengthAdjust="spacingAndGlyphs">Retention time (min)</text>
<text transform="translate(395.4,410.5) rotate(-90)" class="ytD" textLength="52" lengthAdjust="spacingAndGlyphs">Absorbance (mAU)</text>
<text x="437.1" y="284.2" class="plL" text-anchor="middle">D</text>
<polyline fill="none" stroke="#1c1c1c" stroke-width="1.05" stroke-linejoin="round" points="409.4,489.2 410.3,489.4 411.7,489.3 412.4,489.5 414.6,489.2 415.3,489.4 416.1,489.2 417.5,489.6 418.2,489.3 419.2,489.4 419.9,489.2 421.1,489.3 421.6,489.1 422.2,489.3 423.4,489.1 424.3,489.2 425.2,489.5 425.6,491.3 425.9,489.6 426.8,489.4 427.0,491.8 427.3,504.2 427.7,489.8 427.9,489.2 428.7,489.6 429.0,489.2 429.7,483.3 430.4,487.0 430.9,488.7 431.2,489.1 432.0,489.1 432.7,489.5 433.9,489.1 434.6,489.5 435.2,489.3 436.7,489.2 438.7,489.3 439.4,489.1 440.4,489.3 442.4,489.2 443.1,489.5 443.9,489.1 444.8,489.5 446.0,489.1 446.8,489.2 447.3,489.2 447.9,489.3 448.5,489.0 449.1,489.3 449.9,489.3 451.0,489.1 451.5,489.2 452.1,489.0 455.8,489.3 457.9,489.1 458.6,489.4 460.1,489.0 461.5,489.3 463.0,489.0 464.2,489.3 464.9,489.1 465.5,489.2 466.3,489.0 467.2,489.2 467.8,489.1 469.6,489.3 470.7,489.0 472.2,489.4 473.1,489.0 474.4,489.2 475.5,489.0 476.7,489.1 478.0,488.8 478.6,489.0 479.6,488.9 480.3,489.0 481.0,489.0 481.6,489.2 482.3,489.0 483.3,489.2 484.1,489.0 485.3,489.3 485.8,489.1 487.2,488.9 488.0,489.3 489.2,488.8 491.0,489.1 492.2,489.0 492.8,489.2 493.7,488.8 495.3,489.2 495.8,489.1 497.3,489.2 497.9,489.0 498.4,489.1 499.0,488.9 499.9,489.0 502.8,488.8 504.3,489.0 505.0,488.8 505.2,488.5 505.9,484.0 506.6,487.1 507.2,488.2 507.6,488.6 508.4,488.9 509.2,488.9 509.9,489.1 510.5,489.1 511.4,488.7 512.2,489.0 513.4,489.0 513.9,488.9 514.5,489.0 516.4,488.6 517.2,489.0 517.8,488.7 518.3,488.9 518.9,488.7 519.8,488.9 521.1,488.8 522.2,489.0 522.9,488.8 523.4,488.9 524.0,488.8 524.6,489.0 525.5,488.9 526.2,488.7 527.4,489.0 528.3,488.8 529.5,489.0 530.7,488.8 532.1,489.0 532.8,488.7 533.6,488.9 534.3,488.7 534.9,488.8 536.1,488.7 536.7,489.0 537.9,488.7 538.6,489.0 539.3,489.0 540.0,488.7 540.9,489.2 541.5,488.8 542.1,488.9 542.6,489.1 543.8,488.7 545.5,489.0 546.2,488.6 546.8,488.9 548.1,489.0 548.7,488.8 549.8,489.0 550.5,488.7 551.5,489.0 552.8,488.7 554.0,488.9 555.2,488.6 556.4,489.0 557.0,488.8 558.3,488.9 560.2,488.8 561.0,489.2 561.9,488.7 562.7,489.1 564.1,488.8 564.7,489.0 565.5,489.0 566.3,488.7 567.5,488.8 568.2,488.5 568.9,488.8 570.9,488.5 572.8,489.0 573.6,488.7 574.2,488.6 575.0,489.2 576.0,488.8 576.9,489.0 577.8,488.7 578.9,488.9 579.5,488.7 580.8,488.7 581.6,489.0 582.1,488.9 582.8,488.9 583.5,488.5 584.2,488.7 585.0,488.5 586.8,488.7 587.4,489.0 588.3,488.7 589.7,488.9 590.8,488.7 591.5,488.9 592.2,488.7 593.0,488.9 593.3,488.7 593.5,487.8 594.1,481.9 594.8,487.3 595.0,487.8 595.2,486.9 595.9,451.7 596.6,479.2 597.0,484.5 597.4,487.0 597.5,487.0 597.6,486.8 597.7,485.4 598.4,474.6 599.1,484.4 599.4,486.6 599.7,487.7 600.3,488.4 600.9,488.6 601.6,488.5 602.2,488.7 603.5,488.6 604.2,488.8 605.2,488.6 605.5,485.4 606.0,465.7 606.7,482.3 607.0,485.6 607.4,487.6 607.7,488.2 608.0,488.4 608.8,488.6 609.6,488.4 609.9,487.6 610.6,483.7 611.3,487.0 611.7,487.9 612.4,488.5 613.3,488.4 613.5,487.2 613.7,483.0 614.3,453.6 615.1,480.4 615.5,485.9 615.8,487.6 616.0,488.2 616.2,487.3 616.3,483.3 616.5,465.9 617.2,278.9 617.8,401.4 618.3,451.5 618.7,467.8 619.1,478.8 619.6,484.6 620.4,487.9 620.8,488.2 622.3,488.4 623.1,488.9 624.2,488.6 625.2,488.8 626.2,488.4 626.8,488.5 627.8,487.5 628.5,488.3 629.4,488.7 630.3,488.4 631.7,488.8 633.0,488.3 633.5,488.5 634.2,488.4 635.0,488.7 636.5,488.7 636.8,488.4 637.0,487.7 637.8,481.7 638.8,487.1 639.2,487.9 640.1,488.6 642.1,488.3 643.2,488.6 644.6,488.4 645.2,488.6 646.7,488.3 647.7,488.6 649.1,488.5 649.7,488.3 650.5,488.6 651.6,488.4 652.2,488.6 653.2,488.5 654.0,488.7 655.0,488.3 655.8,488.7 657.5,488.7 658.8,488.4 661.3,488.4 662.8,488.7 663.1,488.4 663.4,487.8 663.9,484.1 664.1,483.6 665.1,487.7 665.4,488.2 666.4,488.5 667.5,488.5 668.2,488.4 669.0,488.7 670.2,488.3 672.6,488.7 673.7,488.5 674.2,488.3 674.7,488.5 675.2,488.4 675.9,488.7 676.4,488.6 678.4,488.4 681.6,488.6 682.3,488.3 683.0,488.6 683.7,488.4 684.5,488.7 685.6,488.6 686.2,488.3 687.0,488.3 687.6,488.5 688.4,488.2 689.5,488.6 690.1,488.4 691.3,488.5 692.6,488.3 693.4,488.5 694.8,488.3 696.3,488.6 697.0,488.3 697.6,488.5 698.1,488.3 698.7,488.6 699.4,488.3 700.6,488.6 701.8,488.4 702.8,488.6 703.8,488.3 704.9,488.6 706.3,488.5 707.8,488.5 708.3,488.7 709.0,488.3 709.8,488.6 710.9,488.5 711.8,488.1 712.7,488.4 713.9,488.1 715.1,488.7 715.7,488.3 716.5,488.2 718.1,488.4 718.7,488.3 719.3,488.5 720.1,488.4 720.7,488.5 721.2,488.1 722.2,488.5 722.9,488.4"/>
<polyline fill="none" stroke="#27b887" stroke-width="1.05" stroke-linejoin="round" points="409.4,460.4 411.4,460.3 412.8,460.4 413.6,460.2 415.2,460.4 415.7,460.2 416.3,460.4 416.8,460.2 417.6,460.5 418.4,460.1 419.5,460.4 420.2,460.1 422.6,460.4 423.9,460.4 425.3,460.0 426.0,460.4 426.6,460.3 426.8,463.0 427.1,477.1 427.5,460.9 427.7,460.3 428.2,460.4 428.6,460.0 429.1,455.4 429.6,458.5 430.0,459.4 430.3,459.4 430.9,458.8 431.7,459.5 432.7,460.1 433.7,460.3 434.2,460.1 434.8,460.3 435.9,460.3 436.8,460.6 438.1,460.3 438.8,460.5 440.2,460.5 440.8,460.1 441.5,460.5 442.5,460.2 443.8,460.6 444.8,460.2 447.0,460.3 447.8,460.2 449.2,460.6 450.5,460.2 453.1,460.2 453.6,460.4 454.3,460.2 456.8,460.6 457.5,460.3 458.3,460.4 458.9,460.2 459.7,460.5 460.6,460.2 461.3,460.4 462.8,460.2 463.3,460.4 464.1,460.4 464.6,460.2 465.1,460.3 465.7,460.2 466.6,460.1 468.1,460.3 468.9,460.6 469.6,460.3 470.1,460.5 470.7,460.3 471.6,460.4 472.3,460.1 472.9,460.5 473.6,460.3 474.2,460.6 474.7,460.4 476.1,460.3 476.7,460.1 477.2,460.2 477.8,460.1 481.3,460.4 481.9,460.2 483.2,460.5 484.0,460.2 485.2,460.3 485.9,460.1 487.8,460.2 488.6,460.5 491.8,460.2 492.9,460.4 493.6,460.1 494.2,460.4 495.0,460.2 495.7,460.5 496.3,460.2 496.9,460.3 497.5,460.1 498.2,460.3 498.9,460.1 499.7,460.1 500.3,460.4 501.3,460.3 501.9,460.3 502.7,460.1 503.2,460.3 504.1,460.3 504.9,460.1 505.1,458.9 505.9,444.2 506.7,454.6 507.3,458.2 507.7,459.3 508.3,460.0 509.3,460.3 509.8,460.3 510.3,460.5 511.4,460.1 512.4,460.4 513.1,460.3 513.8,460.3 514.4,460.2 515.3,460.5 515.8,460.3 516.6,459.4 517.3,459.9 518.0,460.2 519.2,460.4 519.8,460.2 520.8,460.5 521.7,460.2 522.4,460.2 523.2,460.6 524.1,460.5 524.7,460.2 525.5,460.4 526.5,460.3 527.3,460.1 528.4,460.5 529.1,460.3 529.7,460.4 531.1,460.2 531.6,460.4 532.2,460.3 533.7,460.5 537.5,460.1 538.2,460.4 539.4,460.1 540.1,460.4 540.8,460.1 541.9,460.5 544.0,460.3 544.7,460.5 545.4,460.2 546.0,460.4 547.1,460.2 548.0,460.5 550.3,460.1 551.0,460.4 551.7,460.2 552.4,460.3 553.0,460.1 553.7,460.3 554.6,460.2 556.4,460.4 557.0,460.6 558.2,460.3 558.9,460.4 559.7,460.0 560.5,460.3 561.3,460.2 561.9,460.5 562.4,460.2 563.3,460.1 564.0,460.3 564.9,460.2 565.8,460.4 567.1,460.1 569.1,460.4 569.8,460.2 570.5,460.3 571.2,460.1 572.3,460.4 574.2,460.2 574.8,460.0 575.5,460.2 576.2,460.3 576.9,460.1 578.0,460.2 578.7,460.5 581.0,460.3 581.8,460.3 582.4,460.6 583.1,460.1 583.7,460.1 584.4,460.3 585.9,460.2 587.6,460.4 588.7,460.2 589.4,460.5 590.6,460.1 591.4,460.5 592.6,460.1 593.4,460.3 594.1,460.0 594.7,460.4 594.8,459.7 595.0,457.0 595.1,445.5 595.7,337.3 596.5,430.7 596.9,447.9 597.4,456.6 597.7,457.5 597.9,456.2 598.4,441.8 598.6,440.0 599.4,454.6 599.7,457.3 600.0,458.9 600.3,459.6 600.7,459.9 602.2,460.4 603.8,460.4 604.6,460.0 604.8,459.4 605.1,448.5 605.6,392.2 606.3,440.4 606.6,450.5 607.0,456.5 607.3,458.4 607.8,459.7 608.6,460.1 609.5,459.9 609.9,458.0 610.3,450.8 610.6,449.3 611.3,456.3 611.6,458.4 612.1,459.7 613.1,460.2 613.3,459.5 613.5,457.0 613.7,441.6 614.3,315.2 615.1,431.7 615.6,452.2 616.0,456.2 616.2,452.4 617.0,294.2 617.7,398.6 618.4,439.1 618.8,446.7 618.9,446.9 619.0,446.5 619.4,442.8 619.5,442.5 619.6,442.7 620.7,455.6 621.2,457.7 622.0,459.8 622.3,460.0 622.8,459.7 623.4,460.2 624.5,460.3 625.5,460.0 626.5,460.5 627.6,459.9 628.5,460.3 629.2,460.0 629.8,460.4 630.3,460.3 630.9,460.4 631.5,460.1 632.1,460.3 632.8,460.1 633.3,460.3 634.2,460.3 634.4,459.7 634.6,458.5 635.1,449.7 635.3,448.4 636.0,456.3 636.4,458.7 637.3,460.2 638.1,460.3 639.0,460.0 639.3,459.4 639.5,457.7 640.0,447.1 640.2,445.1 641.2,456.7 641.7,459.0 642.3,460.0 643.1,460.0 643.7,460.2 645.3,460.2 646.0,460.4 647.7,460.0 649.3,460.3 649.9,460.1 650.7,460.3 652.4,460.1 654.4,460.4 656.6,460.1 657.7,460.3 658.3,460.0 658.7,460.2 659.3,460.0 660.4,460.3 662.8,460.2 663.1,459.7 663.3,458.0 663.9,444.9 664.1,443.3 665.2,457.0 665.7,459.0 666.3,459.8 666.8,460.1 668.5,460.4 669.0,460.2 669.7,460.4 670.5,459.9 671.3,460.1 672.5,460.0 673.2,460.3 674.3,459.9 676.8,460.2 677.5,459.9 678.2,459.9 679.0,460.2 679.8,460.2 680.5,459.8 681.2,460.2 681.6,460.1 682.2,460.2 683.6,460.1 684.3,460.3 685.6,460.0 686.7,460.3 687.5,459.9 688.1,460.2 688.8,460.0 689.6,460.3 690.8,459.8 691.5,460.2 692.6,459.9 693.4,460.2 694.5,459.8 695.2,460.3 696.6,459.8 697.8,460.4 698.7,459.7 700.2,460.0 700.8,459.9 701.5,460.0 702.4,459.7 702.8,459.3 703.7,457.5 704.5,459.1 705.3,459.3 707.0,459.2 707.9,459.4 708.7,458.9 710.2,459.1 710.8,458.8 711.8,458.9 712.6,458.5 713.9,458.8 714.6,458.5 715.9,458.5 716.6,458.2 717.8,458.6 718.8,458.5 719.4,458.2 721.7,458.2 722.9,458.0"/>
<polyline fill="none" stroke="#2a2ae6" stroke-width="1.05" stroke-linejoin="round" points="409.4,431.2 410.1,431.1 410.9,431.5 411.6,431.1 412.1,431.3 413.5,431.3 414.1,431.5 414.9,431.6 415.7,431.3 417.1,431.5 417.9,431.1 418.8,431.4 419.5,431.3 420.1,431.5 420.7,431.1 421.1,431.3 422.0,431.3 422.6,431.5 423.4,431.1 424.1,431.2 424.7,431.5 425.2,431.3 425.8,431.5 426.6,431.5 426.8,433.8 427.1,445.3 427.5,431.9 427.7,431.3 428.5,431.1 428.6,430.8 429.1,423.5 429.6,428.8 430.0,430.3 430.2,430.4 430.7,430.0 431.1,430.0 432.1,430.9 433.2,431.0 434.2,431.6 435.6,430.9 436.4,431.5 437.4,431.3 438.1,431.4 440.1,431.2 440.6,431.4 441.3,431.2 442.3,431.5 443.3,431.0 444.8,431.3 446.2,431.3 446.8,431.0 447.3,431.3 448.8,431.1 450.3,431.3 450.8,431.1 451.2,431.2 451.7,431.0 453.2,431.2 454.6,431.0 455.3,431.2 456.2,431.1 457.0,431.3 458.3,431.2 459.6,431.3 460.8,431.1 461.5,431.3 463.0,430.4 464.7,431.3 465.4,431.2 466.5,431.3 468.1,431.1 468.7,431.2 469.4,431.0 470.4,430.9 470.8,431.1 472.1,430.8 472.9,430.1 473.3,430.2 474.1,431.0 474.9,431.1 476.0,430.7 476.6,431.1 477.8,431.0 478.6,431.3 479.3,431.1 481.2,431.2 481.8,430.8 482.5,431.1 483.4,431.0 484.3,431.4 484.9,430.9 486.3,431.2 487.2,430.8 488.3,431.1 489.4,431.0 490.0,431.2 490.8,430.9 491.4,431.1 493.5,431.1 494.5,431.3 495.3,431.0 496.3,430.9 497.8,431.2 498.4,431.1 499.1,431.2 499.7,431.0 500.2,431.2 500.8,431.1 502.0,431.3 502.6,431.0 503.3,431.1 504.6,430.9 504.9,430.4 505.0,429.3 505.2,423.8 505.7,380.9 505.9,375.0 506.7,408.9 507.1,420.5 507.4,425.0 507.8,428.1 508.5,430.1 509.0,430.7 509.6,430.8 511.0,431.2 512.2,431.0 513.1,431.4 514.2,430.7 515.0,429.2 515.9,430.5 516.5,430.7 516.7,430.2 517.2,427.6 517.4,427.1 518.2,429.6 518.7,430.6 519.8,431.1 520.5,430.9 521.0,431.1 521.6,431.1 522.3,431.3 523.5,431.0 524.2,431.2 525.4,430.8 526.2,431.1 527.1,431.0 528.0,429.5 528.2,429.4 529.5,431.0 530.2,430.9 530.8,431.3 531.4,431.2 532.0,431.3 533.8,431.0 534.8,431.2 535.7,430.9 536.9,431.1 538.5,431.2 539.4,431.0 540.3,431.2 542.1,430.9 542.8,431.2 544.0,431.1 544.5,431.3 545.4,430.9 547.2,431.4 548.6,431.2 549.3,431.2 550.1,431.0 553.0,431.2 555.9,430.9 557.3,431.2 558.3,431.0 559.2,431.2 559.8,431.0 560.8,431.1 561.3,431.0 562.8,431.2 563.6,430.9 564.7,430.9 565.6,431.1 566.8,431.0 567.4,431.2 568.5,430.8 569.3,431.2 571.0,431.0 571.7,431.2 572.5,430.9 573.3,431.2 574.3,430.8 575.2,431.1 576.3,430.9 577.3,431.2 578.0,431.1 578.6,431.4 579.2,431.1 579.7,431.2 580.2,431.0 580.9,431.3 582.7,430.9 583.3,431.2 585.5,431.0 586.8,431.2 587.6,431.0 588.3,431.4 588.8,431.1 589.6,431.1 590.4,430.8 591.5,431.1 592.2,431.0 592.9,431.3 593.9,431.2 594.9,430.8 595.7,428.3 596.6,430.4 597.2,431.1 598.3,431.3 599.6,430.9 600.0,431.1 600.5,431.0 602.2,431.3 602.7,431.1 603.1,430.6 604.0,426.2 604.9,430.0 605.2,430.6 605.5,430.6 605.7,429.3 606.4,422.0 607.4,428.7 607.8,429.9 608.4,430.9 609.2,430.9 610.0,431.2 611.2,430.9 613.2,431.2 613.5,430.4 614.0,426.7 614.3,426.0 615.1,429.5 615.6,430.8 616.0,431.1 617.0,431.2 618.1,431.1 618.5,430.8 618.7,430.4 618.9,427.4 619.6,397.3 620.4,418.6 620.9,425.6 621.2,428.1 621.7,429.9 622.0,430.4 622.6,430.5 623.1,430.9 625.6,430.9 626.2,431.2 626.7,431.0 627.5,431.2 628.5,431.0 629.1,431.2 630.0,431.0 631.7,431.2 632.8,431.0 633.6,431.2 635.0,431.0 635.7,431.2 636.3,431.0 637.1,431.3 638.2,431.2 638.9,431.4 639.5,431.3 640.4,431.4 641.1,431.0 642.6,430.8 643.4,431.4 644.3,430.9 644.9,431.2 645.9,430.9 646.5,431.1 647.5,431.0 648.1,431.2 649.1,430.9 650.1,431.0 650.6,431.2 651.8,430.9 653.0,431.1 653.8,430.9 654.5,431.0 655.1,430.8 655.7,431.4 656.3,430.9 656.7,430.8 657.4,431.2 658.0,431.3 658.8,431.0 659.9,431.2 661.2,431.0 662.0,431.3 662.6,431.1 665.4,430.9 666.1,431.1 667.1,431.1 669.1,431.3 670.5,430.9 671.2,431.1 672.3,430.8 673.1,431.1 675.5,431.0 676.2,431.2 676.8,431.0 679.6,431.1 680.3,430.9 682.0,431.1 682.7,431.4 684.4,431.2 685.3,431.0 686.1,431.0 686.7,431.2 687.1,431.0 687.6,431.1 689.1,431.1 690.4,430.7 691.2,431.1 694.1,430.9 695.6,431.2 696.4,430.8 697.8,431.3 698.3,431.1 698.8,431.2 699.4,430.9 700.3,431.3 701.0,431.0 702.7,431.1 703.5,430.8 704.5,431.1 705.7,431.0 707.0,431.2 707.7,430.9 708.4,431.0 713.5,430.6 714.3,430.7 715.1,430.5 715.7,430.6 716.7,430.4 717.3,430.6 718.1,430.6 718.7,430.4 719.2,430.6 720.0,430.7 720.5,430.4 721.4,430.3 722.9,430.4"/>
<polyline fill="none" stroke="#ee6a95" stroke-width="1.05" stroke-linejoin="round" points="409.4,402.1 410.8,401.8 412.5,402.1 414.0,401.8 414.9,402.1 415.6,402.0 416.9,402.2 417.6,401.9 418.3,401.8 419.1,401.9 419.8,402.2 420.7,402.0 421.5,402.2 422.3,401.9 423.0,402.1 423.6,401.8 425.5,402.1 426.1,402.0 426.6,402.1 426.8,405.0 427.2,420.0 427.5,402.8 427.7,402.0 428.5,401.8 428.6,401.4 429.1,394.1 429.6,399.6 430.1,401.1 431.1,400.4 432.0,401.5 432.9,401.7 433.4,402.1 434.1,401.8 435.9,401.9 436.8,401.7 437.2,401.7 437.8,402.3 439.0,402.1 440.0,402.4 440.8,401.8 441.9,402.0 443.8,401.9 445.5,402.2 446.8,401.8 448.4,402.1 449.1,401.9 450.1,402.3 450.9,402.0 452.1,402.2 453.4,401.8 454.9,402.0 455.5,402.4 456.1,401.9 456.7,402.1 457.4,402.0 458.1,402.1 459.4,401.9 460.7,402.2 461.7,401.8 462.4,401.9 464.6,402.0 465.9,401.8 466.5,402.0 467.0,401.8 467.6,402.0 469.4,401.8 471.4,402.0 472.0,401.9 472.5,402.1 473.1,401.9 473.7,402.2 474.4,401.9 475.1,401.9 475.7,402.1 476.4,401.9 477.0,401.9 477.8,402.1 479.1,402.0 481.2,402.1 481.8,402.3 482.4,402.0 484.8,401.9 485.7,402.1 486.7,402.0 487.2,402.1 488.6,401.8 489.8,402.1 490.8,402.1 491.3,401.9 492.0,402.2 492.6,401.9 493.4,402.1 494.2,401.8 494.9,402.0 498.0,401.9 498.6,402.0 499.6,401.7 500.3,402.2 501.1,401.9 502.2,402.1 504.6,401.9 505.0,401.6 505.2,400.6 505.9,391.0 506.6,397.8 507.1,400.6 507.7,401.6 508.3,402.0 509.0,402.0 509.5,402.3 511.2,401.8 511.9,402.1 512.9,401.9 513.9,402.2 514.6,401.9 515.6,402.2 516.8,401.8 517.5,400.7 518.4,401.8 519.0,401.8 520.2,402.1 521.0,401.9 522.3,402.1 523.0,401.9 524.1,402.2 524.9,401.9 526.4,402.2 527.3,401.2 528.1,401.9 529.2,402.0 529.9,402.4 531.0,402.1 531.8,402.2 532.4,401.8 533.1,402.1 534.3,401.9 534.9,402.1 535.5,401.9 536.0,402.1 536.7,402.1 537.3,401.8 538.0,402.2 538.9,402.2 540.1,402.4 540.7,402.1 541.3,402.2 542.0,401.9 543.7,402.0 545.5,402.3 546.7,402.1 548.3,402.3 549.0,402.0 549.7,402.2 550.5,401.9 552.3,402.1 553.0,402.1 553.5,402.3 554.2,402.0 556.2,402.3 556.8,401.9 557.5,402.1 558.3,401.8 558.9,402.1 559.6,401.8 560.4,401.8 561.5,402.3 562.4,401.9 563.3,402.2 564.0,402.0 565.1,402.1 565.7,401.9 566.4,402.3 567.7,401.9 568.6,402.2 569.5,402.0 570.1,402.1 570.7,401.9 572.9,402.4 573.6,402.1 574.3,402.4 574.9,402.0 575.6,402.2 576.2,402.1 576.8,401.8 577.5,402.3 578.2,402.0 579.9,402.2 583.7,401.9 585.1,402.3 585.7,402.1 587.2,402.2 587.8,402.0 588.3,402.2 588.8,402.0 589.5,402.3 590.2,402.1 591.8,402.1 592.4,401.8 593.0,402.2 594.1,402.3 594.8,401.8 595.1,400.3 595.7,377.0 596.5,396.3 596.9,399.8 597.5,401.4 598.1,402.1 598.4,402.3 599.2,402.3 599.9,402.1 600.6,402.3 601.3,402.2 602.2,402.3 602.9,402.0 604.6,402.2 605.0,400.6 605.6,393.3 606.4,400.0 606.7,401.1 607.2,402.0 607.5,402.1 608.0,402.0 609.0,402.0 610.3,402.4 610.9,402.1 611.6,402.0 613.2,402.2 613.5,401.6 613.7,398.7 614.3,375.2 615.1,396.9 615.7,400.7 616.1,401.6 616.4,400.9 616.6,395.4 617.1,369.3 618.1,395.6 618.7,400.2 619.1,401.5 619.6,402.1 620.1,402.0 620.6,402.2 621.1,402.1 622.1,402.6 623.2,402.1 624.3,402.3 625.0,402.0 625.6,402.4 627.2,401.9 628.6,402.2 629.6,402.3 630.2,402.1 632.1,402.4 633.2,402.0 634.3,402.2 635.2,401.1 636.5,402.1 637.2,402.0 637.8,402.3 638.5,402.4 639.3,402.0 640.2,400.2 641.1,401.7 642.1,402.2 643.1,402.0 645.3,402.3 645.9,402.1 646.9,402.2 647.5,402.1 648.1,402.4 648.8,402.2 649.8,402.3 651.1,402.1 651.8,402.3 652.7,402.0 655.8,402.2 657.1,401.9 657.8,402.3 659.6,402.1 660.2,402.2 660.8,402.0 661.9,402.4 662.6,402.3 663.1,402.0 663.8,400.6 664.1,400.4 664.4,400.6 665.1,401.7 665.9,402.1 666.9,402.0 667.6,402.2 669.2,402.3 670.0,402.0 671.5,402.3 673.3,402.2 676.2,402.3 676.9,402.1 677.5,402.5 678.9,402.0 679.9,402.0 680.6,402.4 681.1,402.1 682.1,402.3 682.8,402.0 683.5,402.2 684.1,402.0 684.8,402.2 686.3,402.2 687.5,401.8 689.7,402.2 690.4,402.0 691.4,402.2 692.6,402.0 693.2,402.2 694.1,402.1 694.8,402.3 695.7,402.1 698.4,402.0 700.0,402.2 701.6,402.0 703.4,402.3 704.3,402.0 705.2,402.2 706.0,402.0 708.0,402.3 708.6,402.0 709.6,402.1 710.2,401.8 710.9,401.8 712.4,401.9 713.3,401.7 713.9,401.9 715.2,401.7 716.5,402.0 717.0,401.8 717.6,401.8 718.2,401.5 718.8,401.6 719.4,401.4 720.0,401.7 720.7,401.4 721.5,401.4 722.1,401.6 722.9,401.5"/>
<text x="506" y="372" class="pkD" text-anchor="middle">3</text>
<text x="619.4" y="394.4" class="pkD" text-anchor="middle">7</text>
<text x="663.8" y="441.4" class="pkD" text-anchor="middle">8</text>
<text x="713.9" y="400.7" class="lg" textLength="24" lengthAdjust="spacingAndGlyphs">Fraction D</text>
<text x="713.9" y="427.2" class="lg" textLength="24" lengthAdjust="spacingAndGlyphs">Fraction C</text>
<text x="716.8" y="457.2" class="lg" textLength="24" lengthAdjust="spacingAndGlyphs">Fraction B</text>
<text x="715.8" y="487.3" class="lg" textLength="24" lengthAdjust="spacingAndGlyphs">Fraction A</text>
<path d="M592.9,276.20000000000005V281.0M592.9,278.6H621.1M621.1,276.20000000000005V281.0" stroke="#2a2a2a" stroke-width="0.95" fill="none"/>
<text x="605.9" y="278.6" class="star" text-anchor="middle">*</text>
</svg>
</body></html>
